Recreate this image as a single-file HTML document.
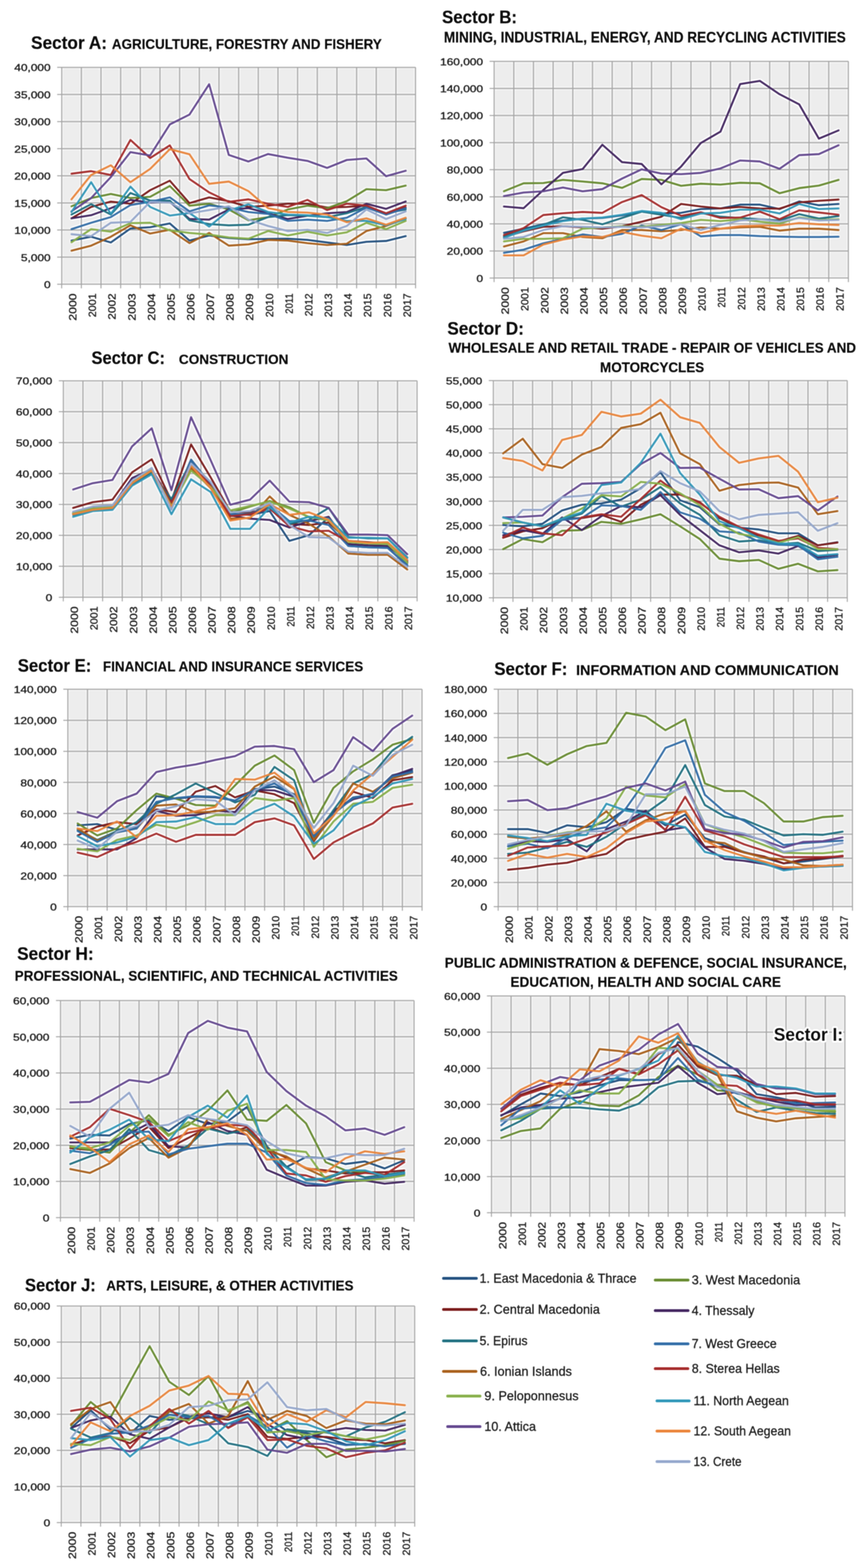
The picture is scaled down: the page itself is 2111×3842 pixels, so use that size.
<!DOCTYPE html>
<html><head><meta charset="utf-8"><title>Regional GVA by sector</title><style>html,body{margin:0;padding:0;background:#fefefe;}svg{display:block;} .lab{stroke:#1c1c1c;stroke-width:0.85px;}</style></head><body>
<svg width="2111" height="3842" viewBox="0 0 2111 3842" font-family="'Liberation Sans', Arial, sans-serif" fill="#1c1c1c">
<defs><filter id="sh" filterUnits="userSpaceOnUse" x="-40" y="-40" width="2191" height="3922" color-interpolation-filters="sRGB"><feGaussianBlur in="SourceGraphic" stdDeviation="0.8" result="s"/><feGaussianBlur in="s" stdDeviation="2.0" result="b"/><feColorMatrix in="b" type="matrix" values="-1 0 0 0 1  0 -1 0 0 1  0 0 -1 0 1  0 0 0 1 0" result="bi"/><feComposite in="s" in2="bi" operator="arithmetic" k1="0" k2="0.5" k3="0.5" k4="0" result="d"/><feColorMatrix in="d" type="matrix" values="0.299 0.587 0.114 0 0  0.299 0.587 0.114 0 0  0.299 0.587 0.114 0 0  0 0 0 1 0" result="dl"/><feComponentTransfer in="dl" result="dp"><feFuncR type="linear" slope="2" intercept="-1"/><feFuncG type="linear" slope="2" intercept="-1"/><feFuncB type="linear" slope="2" intercept="-1"/></feComponentTransfer><feComposite in="s" in2="dp" operator="arithmetic" k1="0" k2="1" k3="0.75" k4="0"/></filter></defs>
<g filter="url(#sh)">
<rect x="-40" y="-40" width="2191" height="3922" fill="#fefefe"/>
<rect x="151" y="165" width="866.7" height="531.5" fill="#ececec"/>
<path d="M140 696.5H1017.7M140 630.1H1017.7M140 563.6H1017.7M140 497.2H1017.7M140 430.8H1017.7M140 364.3H1017.7M140 297.9H1017.7M140 231.4H1017.7M140 165H1017.7M151 165V706.5M199.2 165V706.5M247.3 165V706.5M295.5 165V706.5M343.6 165V706.5M391.8 165V706.5M439.9 165V706.5M488.1 165V706.5M536.2 165V706.5M584.4 165V706.5M632.5 165V706.5M680.7 165V706.5M728.8 165V706.5M777 165V706.5M825.1 165V706.5M873.3 165V706.5M921.4 165V706.5M969.6 165V706.5M1017.7 165V706.5" stroke="#a2a2a2" stroke-width="2.5" fill="none"/>
<text x="124" y="705.9" text-anchor="end" font-size="23" textLength="16.3" lengthAdjust="spacingAndGlyphs" class="lab">0</text>
<text x="124" y="639.5" text-anchor="end" font-size="23" textLength="72.7" lengthAdjust="spacingAndGlyphs" class="lab">5,000</text>
<text x="124" y="573" text-anchor="end" font-size="23" textLength="89" lengthAdjust="spacingAndGlyphs" class="lab">10,000</text>
<text x="124" y="506.6" text-anchor="end" font-size="23" textLength="89" lengthAdjust="spacingAndGlyphs" class="lab">15,000</text>
<text x="124" y="440.1" text-anchor="end" font-size="23" textLength="89" lengthAdjust="spacingAndGlyphs" class="lab">20,000</text>
<text x="124" y="373.7" text-anchor="end" font-size="23" textLength="89" lengthAdjust="spacingAndGlyphs" class="lab">25,000</text>
<text x="124" y="307.3" text-anchor="end" font-size="23" textLength="89" lengthAdjust="spacingAndGlyphs" class="lab">30,000</text>
<text x="124" y="240.8" text-anchor="end" font-size="23" textLength="89" lengthAdjust="spacingAndGlyphs" class="lab">35,000</text>
<text x="124" y="174.4" text-anchor="end" font-size="23" textLength="89" lengthAdjust="spacingAndGlyphs" class="lab">40,000</text>
<text transform="translate(187.1 719) rotate(-90)" text-anchor="end" font-size="26.5" textLength="66.7" lengthAdjust="spacingAndGlyphs" class="lab">2000</text>
<text transform="translate(235.2 719) rotate(-90)" text-anchor="end" font-size="26.5" textLength="58.2" lengthAdjust="spacingAndGlyphs" class="lab">2001</text>
<text transform="translate(283.4 719) rotate(-90)" text-anchor="end" font-size="26.5" textLength="64.2" lengthAdjust="spacingAndGlyphs" class="lab">2002</text>
<text transform="translate(331.5 719) rotate(-90)" text-anchor="end" font-size="26.5" textLength="66.7" lengthAdjust="spacingAndGlyphs" class="lab">2003</text>
<text transform="translate(379.7 719) rotate(-90)" text-anchor="end" font-size="26.5" textLength="66.7" lengthAdjust="spacingAndGlyphs" class="lab">2004</text>
<text transform="translate(427.8 719) rotate(-90)" text-anchor="end" font-size="26.5" textLength="66.7" lengthAdjust="spacingAndGlyphs" class="lab">2005</text>
<text transform="translate(476 719) rotate(-90)" text-anchor="end" font-size="26.5" textLength="66.7" lengthAdjust="spacingAndGlyphs" class="lab">2006</text>
<text transform="translate(524.1 719) rotate(-90)" text-anchor="end" font-size="26.5" textLength="66.7" lengthAdjust="spacingAndGlyphs" class="lab">2007</text>
<text transform="translate(572.3 719) rotate(-90)" text-anchor="end" font-size="26.5" textLength="66.7" lengthAdjust="spacingAndGlyphs" class="lab">2008</text>
<text transform="translate(620.4 719) rotate(-90)" text-anchor="end" font-size="26.5" textLength="66.7" lengthAdjust="spacingAndGlyphs" class="lab">2009</text>
<text transform="translate(668.6 719) rotate(-90)" text-anchor="end" font-size="26.5" textLength="58.2" lengthAdjust="spacingAndGlyphs" class="lab">2010</text>
<text transform="translate(716.7 719) rotate(-90)" text-anchor="end" font-size="26.5" textLength="49.7" lengthAdjust="spacingAndGlyphs" class="lab">2011</text>
<text transform="translate(764.9 719) rotate(-90)" text-anchor="end" font-size="26.5" textLength="55.7" lengthAdjust="spacingAndGlyphs" class="lab">2012</text>
<text transform="translate(813 719) rotate(-90)" text-anchor="end" font-size="26.5" textLength="58.2" lengthAdjust="spacingAndGlyphs" class="lab">2013</text>
<text transform="translate(861.2 719) rotate(-90)" text-anchor="end" font-size="26.5" textLength="58.2" lengthAdjust="spacingAndGlyphs" class="lab">2014</text>
<text transform="translate(909.3 719) rotate(-90)" text-anchor="end" font-size="26.5" textLength="58.2" lengthAdjust="spacingAndGlyphs" class="lab">2015</text>
<text transform="translate(957.5 719) rotate(-90)" text-anchor="end" font-size="26.5" textLength="58.2" lengthAdjust="spacingAndGlyphs" class="lab">2016</text>
<text transform="translate(1005.6 719) rotate(-90)" text-anchor="end" font-size="26.5" textLength="58.2" lengthAdjust="spacingAndGlyphs" class="lab">2017</text>
<polyline points="175.1,589.4 223.2,580.1 271.4,594.1 319.5,559.9 367.7,556.8 415.8,547.5 464,589.4 512.1,577 560.3,583.2 608.4,586.3 656.6,585.4 704.7,584.8 752.9,587.9 801,594.1 849.2,600.3 897.3,592.5 945.5,590.4 993.6,578.6" fill="none" stroke="#1F4E7E" stroke-width="4.6" stroke-linejoin="round" stroke-linecap="round"/>
<polyline points="175.1,535 223.2,507 271.4,494 319.5,499.3 367.7,466 415.8,442.7 464,497.7 512.1,483.7 560.3,493 608.4,507 656.6,503.9 704.7,499.3 752.9,499.3 801,508.6 849.2,507 897.3,503.9 945.5,525.7 993.6,508.6" fill="none" stroke="#7A1A1A" stroke-width="4.6" stroke-linejoin="round" stroke-linecap="round"/>
<polyline points="175.1,505.5 223.2,485.3 271.4,475.3 319.5,485.3 367.7,482.2 415.8,455.7 464,503.9 512.1,499.3 560.3,513.3 608.4,539.7 656.6,531.9 704.7,513.3 752.9,503.9 801,510.1 849.2,493 897.3,463.5 945.5,466 993.6,454.8" fill="none" stroke="#668A2E" stroke-width="4.6" stroke-linejoin="round" stroke-linecap="round"/>
<polyline points="175.1,535 223.2,527.3 271.4,510.1 319.5,489.9 367.7,496.2 415.8,494.6 464,536.6 512.1,538.1 560.3,513.3 608.4,510.1 656.6,522.6 704.7,536.6 752.9,528.8 801,522.6 849.2,519.5 897.3,499.3 945.5,511.7 993.6,493.7" fill="none" stroke="#40235E" stroke-width="4.6" stroke-linejoin="round" stroke-linecap="round"/>
<polyline points="175.1,525.7 223.2,500.2 271.4,525.7 319.5,472.8 367.7,491.5 415.8,491.5 464,539.7 512.1,549 560.3,552.1 608.4,550.6 656.6,531.9 704.7,527.3 752.9,528.8 801,531.9 849.2,522.6 897.3,507 945.5,522.6 993.6,513.3" fill="none" stroke="#1E6F80" stroke-width="4.6" stroke-linejoin="round" stroke-linecap="round"/>
<polyline points="175.1,614.3 223.2,601.9 271.4,580.1 319.5,552.1 367.7,572.3 415.8,563 464,595.7 512.1,570.8 560.3,601.9 608.4,598.8 656.6,587.9 704.7,589.4 752.9,595.7 801,600.3 849.2,597.2 897.3,566.1 945.5,553.7 993.6,535" fill="none" stroke="#A85E18" stroke-width="4.6" stroke-linejoin="round" stroke-linecap="round"/>
<polyline points="175.1,561.5 223.2,545.9 271.4,531.9 319.5,502.4 367.7,494.6 415.8,483.7 464,517.9 512.1,503.3 560.3,508.6 608.4,519.5 656.6,524.1 704.7,541.2 752.9,538.1 801,541.2 849.2,533.5 897.3,508.6 945.5,525.7 993.6,510.1" fill="none" stroke="#2F6BA6" stroke-width="4.6" stroke-linejoin="round" stroke-linecap="round"/>
<polyline points="175.1,425.6 223.2,419.4 271.4,428.7 319.5,342.9 367.7,387.3 415.8,356.2 464,438.6 512.1,471.3 560.3,494.6 608.4,488.4 656.6,499.3 704.7,507 752.9,489.9 801,514.8 849.2,499.3 897.3,503.9 945.5,522.6 993.6,503.9" fill="none" stroke="#A52A2A" stroke-width="4.6" stroke-linejoin="round" stroke-linecap="round"/>
<polyline points="175.1,593.5 223.2,561.5 271.4,567.7 319.5,546.8 367.7,545.9 415.8,564.6 464,570.8 512.1,574.8 560.3,581.7 608.4,584.8 656.6,566.1 704.7,577 752.9,567.7 801,577 849.2,569.2 897.3,545.9 945.5,561.5 993.6,541.2" fill="none" stroke="#86AE48" stroke-width="4.6" stroke-linejoin="round" stroke-linecap="round"/>
<polyline points="175.1,517.9 223.2,485.3 271.4,434 319.5,372.7 367.7,381.1 415.8,304.9 464,280.7 512.1,206.4 560.3,379.6 608.4,395.7 656.6,377.4 704.7,386.4 752.9,394.2 801,411.3 849.2,392 897.3,388.3 945.5,431.8 993.6,418.4" fill="none" stroke="#62468E" stroke-width="4.6" stroke-linejoin="round" stroke-linecap="round"/>
<polyline points="175.1,519.5 223.2,446.4 271.4,524.1 319.5,457.3 367.7,507 415.8,528.2 464,522 512.1,555.2 560.3,515.7 608.4,500.8 656.6,519.5 704.7,525.7 752.9,527.3 801,531.9 849.2,541.2 897.3,541.2 945.5,552.1 993.6,536.6" fill="none" stroke="#2E96B8" stroke-width="4.6" stroke-linejoin="round" stroke-linecap="round"/>
<polyline points="175.1,488.4 223.2,428.7 271.4,405 319.5,446.4 367.7,413.8 415.8,365.6 464,378 512.1,450.4 560.3,444.9 608.4,468.2 656.6,510.1 704.7,519.5 752.9,521 801,525.7 849.2,544.4 897.3,535 945.5,550.6 993.6,533.5" fill="none" stroke="#EA8338" stroke-width="4.6" stroke-linejoin="round" stroke-linecap="round"/>
<polyline points="175.1,573.9 223.2,578.6 271.4,545.9 319.5,543.7 367.7,494.6 415.8,496.2 464,522.6 512.1,514.8 560.3,505.5 608.4,538.1 656.6,553.7 704.7,566.1 752.9,563 801,570.8 849.2,553.7 897.3,513.3 945.5,536.6 993.6,517.9" fill="none" stroke="#93A6CC" stroke-width="4.6" stroke-linejoin="round" stroke-linecap="round"/>
<rect x="1210" y="150.3" width="867.7" height="531" fill="#ececec"/>
<path d="M1199 681.3H2077.7M1199 614.9H2077.7M1199 548.5H2077.7M1199 482.2H2077.7M1199 415.8H2077.7M1199 349.4H2077.7M1199 283H2077.7M1199 216.7H2077.7M1199 150.3H2077.7M1210 150.3V691.3M1258.2 150.3V691.3M1306.4 150.3V691.3M1354.6 150.3V691.3M1402.8 150.3V691.3M1451 150.3V691.3M1499.2 150.3V691.3M1547.4 150.3V691.3M1595.6 150.3V691.3M1643.8 150.3V691.3M1692.1 150.3V691.3M1740.3 150.3V691.3M1788.5 150.3V691.3M1836.7 150.3V691.3M1884.9 150.3V691.3M1933.1 150.3V691.3M1981.3 150.3V691.3M2029.5 150.3V691.3M2077.7 150.3V691.3" stroke="#a2a2a2" stroke-width="2.5" fill="none"/>
<text x="1183" y="690.7" text-anchor="end" font-size="23" textLength="16.3" lengthAdjust="spacingAndGlyphs" class="lab">0</text>
<text x="1183" y="624.3" text-anchor="end" font-size="23" textLength="89" lengthAdjust="spacingAndGlyphs" class="lab">20,000</text>
<text x="1183" y="557.9" text-anchor="end" font-size="23" textLength="89" lengthAdjust="spacingAndGlyphs" class="lab">40,000</text>
<text x="1183" y="491.6" text-anchor="end" font-size="23" textLength="89" lengthAdjust="spacingAndGlyphs" class="lab">60,000</text>
<text x="1183" y="425.2" text-anchor="end" font-size="23" textLength="89" lengthAdjust="spacingAndGlyphs" class="lab">80,000</text>
<text x="1183" y="358.8" text-anchor="end" font-size="23" textLength="105.3" lengthAdjust="spacingAndGlyphs" class="lab">100,000</text>
<text x="1183" y="292.4" text-anchor="end" font-size="23" textLength="105.3" lengthAdjust="spacingAndGlyphs" class="lab">120,000</text>
<text x="1183" y="226.1" text-anchor="end" font-size="23" textLength="105.3" lengthAdjust="spacingAndGlyphs" class="lab">140,000</text>
<text x="1183" y="159.7" text-anchor="end" font-size="23" textLength="105.3" lengthAdjust="spacingAndGlyphs" class="lab">160,000</text>
<text transform="translate(1246.1 703.8) rotate(-90)" text-anchor="end" font-size="26.5" textLength="66.7" lengthAdjust="spacingAndGlyphs" class="lab">2000</text>
<text transform="translate(1294.3 703.8) rotate(-90)" text-anchor="end" font-size="26.5" textLength="58.2" lengthAdjust="spacingAndGlyphs" class="lab">2001</text>
<text transform="translate(1342.5 703.8) rotate(-90)" text-anchor="end" font-size="26.5" textLength="64.2" lengthAdjust="spacingAndGlyphs" class="lab">2002</text>
<text transform="translate(1390.7 703.8) rotate(-90)" text-anchor="end" font-size="26.5" textLength="66.7" lengthAdjust="spacingAndGlyphs" class="lab">2003</text>
<text transform="translate(1438.9 703.8) rotate(-90)" text-anchor="end" font-size="26.5" textLength="66.7" lengthAdjust="spacingAndGlyphs" class="lab">2004</text>
<text transform="translate(1487.1 703.8) rotate(-90)" text-anchor="end" font-size="26.5" textLength="66.7" lengthAdjust="spacingAndGlyphs" class="lab">2005</text>
<text transform="translate(1535.3 703.8) rotate(-90)" text-anchor="end" font-size="26.5" textLength="66.7" lengthAdjust="spacingAndGlyphs" class="lab">2006</text>
<text transform="translate(1583.5 703.8) rotate(-90)" text-anchor="end" font-size="26.5" textLength="66.7" lengthAdjust="spacingAndGlyphs" class="lab">2007</text>
<text transform="translate(1631.7 703.8) rotate(-90)" text-anchor="end" font-size="26.5" textLength="66.7" lengthAdjust="spacingAndGlyphs" class="lab">2008</text>
<text transform="translate(1680 703.8) rotate(-90)" text-anchor="end" font-size="26.5" textLength="66.7" lengthAdjust="spacingAndGlyphs" class="lab">2009</text>
<text transform="translate(1728.2 703.8) rotate(-90)" text-anchor="end" font-size="26.5" textLength="58.2" lengthAdjust="spacingAndGlyphs" class="lab">2010</text>
<text transform="translate(1776.4 703.8) rotate(-90)" text-anchor="end" font-size="26.5" textLength="49.7" lengthAdjust="spacingAndGlyphs" class="lab">2011</text>
<text transform="translate(1824.6 703.8) rotate(-90)" text-anchor="end" font-size="26.5" textLength="55.7" lengthAdjust="spacingAndGlyphs" class="lab">2012</text>
<text transform="translate(1872.8 703.8) rotate(-90)" text-anchor="end" font-size="26.5" textLength="58.2" lengthAdjust="spacingAndGlyphs" class="lab">2013</text>
<text transform="translate(1921 703.8) rotate(-90)" text-anchor="end" font-size="26.5" textLength="58.2" lengthAdjust="spacingAndGlyphs" class="lab">2014</text>
<text transform="translate(1969.2 703.8) rotate(-90)" text-anchor="end" font-size="26.5" textLength="58.2" lengthAdjust="spacingAndGlyphs" class="lab">2015</text>
<text transform="translate(2017.4 703.8) rotate(-90)" text-anchor="end" font-size="26.5" textLength="58.2" lengthAdjust="spacingAndGlyphs" class="lab">2016</text>
<text transform="translate(2065.6 703.8) rotate(-90)" text-anchor="end" font-size="26.5" textLength="58.2" lengthAdjust="spacingAndGlyphs" class="lab">2017</text>
<polyline points="1234.1,570.4 1282.3,560.4 1330.5,549.6 1378.7,540.2 1426.9,535.6 1475.1,534 1523.3,527.8 1571.5,518.5 1619.7,523.1 1668,521.6 1716.2,512.3 1764.4,510.7 1812.6,501.4 1860.8,501.4 1909,512.3 1957.2,493.6 2005.4,502.9 2053.6,499.8" fill="none" stroke="#1F4E7E" stroke-width="4.6" stroke-linejoin="round" stroke-linecap="round"/>
<polyline points="1234.1,580.7 1282.3,566.7 1330.5,555.8 1378.7,554.2 1426.9,557.3 1475.1,560.4 1523.3,554.2 1571.5,543.3 1619.7,530.9 1668,499.8 1716.2,506 1764.4,510.7 1812.6,507 1860.8,510.7 1909,511.3 1957.2,495.8 2005.4,492 2053.6,488.9" fill="none" stroke="#7A1A1A" stroke-width="4.6" stroke-linejoin="round" stroke-linecap="round"/>
<polyline points="1234.1,468.7 1282.3,449.1 1330.5,448.5 1378.7,440.7 1426.9,444.8 1475.1,449.1 1523.3,460.3 1571.5,438.6 1619.7,440.7 1668,455.3 1716.2,450.1 1764.4,452.2 1812.6,447.9 1860.8,449.1 1909,473.4 1957.2,460.9 2005.4,454.7 2053.6,440.7" fill="none" stroke="#668A2E" stroke-width="4.6" stroke-linejoin="round" stroke-linecap="round"/>
<polyline points="1234.1,506 1282.3,510.1 1330.5,465.6 1378.7,423.6 1426.9,414.3 1475.1,354.6 1523.3,397.2 1571.5,401.9 1619.7,451.6 1668,408.1 1716.2,350.6 1764.4,322.6 1812.6,206 1860.8,198.2 1909,230.8 1957.2,255.7 2005.4,339.7 2053.6,319.5" fill="none" stroke="#40235E" stroke-width="4.6" stroke-linejoin="round" stroke-linecap="round"/>
<polyline points="1234.1,579.1 1282.3,563.6 1330.5,551.1 1378.7,532.5 1426.9,538.7 1475.1,549.6 1523.3,534 1571.5,518.5 1619.7,526.2 1668,534 1716.2,521.6 1764.4,530.9 1812.6,534 1860.8,537.1 1909,540.2 1957.2,524.7 2005.4,535.6 2053.6,529.4" fill="none" stroke="#1E6F80" stroke-width="4.6" stroke-linejoin="round" stroke-linecap="round"/>
<polyline points="1234.1,604 1282.3,591.5 1330.5,571.3 1378.7,571.3 1426.9,580.7 1475.1,583.8 1523.3,563.6 1571.5,563.6 1619.7,566.7 1668,563.6 1716.2,557.3 1764.4,560.4 1812.6,557.3 1860.8,555.8 1909,565.1 1957.2,560.4 2005.4,560.4 2053.6,563.6" fill="none" stroke="#A85E18" stroke-width="4.6" stroke-linejoin="round" stroke-linecap="round"/>
<polyline points="1234.1,619.5 1282.3,611.8 1330.5,596.2 1378.7,585.3 1426.9,574.4 1475.1,580.7 1523.3,572.9 1571.5,552.7 1619.7,563.6 1668,549.6 1716.2,579.1 1764.4,576 1812.6,576 1860.8,578.5 1909,579.7 1957.2,580.7 2005.4,580.7 2053.6,580" fill="none" stroke="#2F6BA6" stroke-width="4.6" stroke-linejoin="round" stroke-linecap="round"/>
<polyline points="1234.1,576 1282.3,558.9 1330.5,526.9 1378.7,522.5 1426.9,519.4 1475.1,521.6 1523.3,495.1 1571.5,478 1619.7,507.6 1668,528.7 1716.2,520 1764.4,534 1812.6,533.1 1860.8,518.5 1909,537.1 1957.2,515.4 2005.4,520.6 2053.6,526.2" fill="none" stroke="#A52A2A" stroke-width="4.6" stroke-linejoin="round" stroke-linecap="round"/>
<polyline points="1234.1,591.5 1282.3,585.3 1330.5,585.3 1378.7,583.8 1426.9,560.4 1475.1,557.3 1523.3,554.2 1571.5,555.8 1619.7,551.1 1668,546.5 1716.2,538.7 1764.4,541.8 1812.6,537.1 1860.8,543.3 1909,548 1957.2,532.5 2005.4,538.7 2053.6,537.1" fill="none" stroke="#86AE48" stroke-width="4.6" stroke-linejoin="round" stroke-linecap="round"/>
<polyline points="1234.1,480.5 1282.3,471.8 1330.5,468.7 1378.7,459.4 1426.9,468.7 1475.1,463.4 1523.3,437.6 1571.5,414.9 1619.7,425.2 1668,426.7 1716.2,423.6 1764.4,412.7 1812.6,393.2 1860.8,395.6 1909,413.7 1957.2,380.1 2005.4,377.6 2053.6,355.8" fill="none" stroke="#62468E" stroke-width="4.6" stroke-linejoin="round" stroke-linecap="round"/>
<polyline points="1234.1,582.8 1282.3,565.1 1330.5,552.7 1378.7,541.8 1426.9,535.6 1475.1,533.1 1523.3,526.2 1571.5,516.9 1619.7,521.6 1668,537.1 1716.2,523.1 1764.4,521.6 1812.6,513.8 1860.8,513.8 1909,523.1 1957.2,499.8 2005.4,512.3 2053.6,510.7" fill="none" stroke="#2E96B8" stroke-width="4.6" stroke-linejoin="round" stroke-linecap="round"/>
<polyline points="1234.1,625.7 1282.3,625.7 1330.5,599.3 1378.7,586.9 1426.9,579.1 1475.1,580.7 1523.3,568.2 1571.5,577.5 1619.7,583.8 1668,560.4 1716.2,571.3 1764.4,560.4 1812.6,554.2 1860.8,552.7 1909,552.7 1957.2,546.5 2005.4,549.6 2053.6,551.1" fill="none" stroke="#EA8338" stroke-width="4.6" stroke-linejoin="round" stroke-linecap="round"/>
<polyline points="1234.1,585.3 1282.3,580.7 1330.5,563.6 1378.7,554.2 1426.9,555.8 1475.1,557.3 1523.3,555.8 1571.5,557.3 1619.7,554.2 1668,549.6 1716.2,563.6 1764.4,551.1 1812.6,540.2 1860.8,537.1 1909,543.3 1957.2,534 2005.4,540.2 2053.6,538.7" fill="none" stroke="#93A6CC" stroke-width="4.6" stroke-linejoin="round" stroke-linecap="round"/>
<rect x="155" y="932.9" width="866.5" height="530.5" fill="#ececec"/>
<path d="M144 1463.4H1021.5M144 1387.6H1021.5M144 1311.8H1021.5M144 1236H1021.5M144 1160.3H1021.5M144 1084.5H1021.5M144 1008.7H1021.5M144 932.9H1021.5M155 932.9V1473.4M203.1 932.9V1473.4M251.3 932.9V1473.4M299.4 932.9V1473.4M347.6 932.9V1473.4M395.7 932.9V1473.4M443.8 932.9V1473.4M492 932.9V1473.4M540.1 932.9V1473.4M588.2 932.9V1473.4M636.4 932.9V1473.4M684.5 932.9V1473.4M732.7 932.9V1473.4M780.8 932.9V1473.4M828.9 932.9V1473.4M877.1 932.9V1473.4M925.2 932.9V1473.4M973.4 932.9V1473.4M1021.5 932.9V1473.4" stroke="#a2a2a2" stroke-width="2.5" fill="none"/>
<text x="128" y="1472.8" text-anchor="end" font-size="23" textLength="16.3" lengthAdjust="spacingAndGlyphs" class="lab">0</text>
<text x="128" y="1397" text-anchor="end" font-size="23" textLength="89" lengthAdjust="spacingAndGlyphs" class="lab">10,000</text>
<text x="128" y="1321.2" text-anchor="end" font-size="23" textLength="89" lengthAdjust="spacingAndGlyphs" class="lab">20,000</text>
<text x="128" y="1245.4" text-anchor="end" font-size="23" textLength="89" lengthAdjust="spacingAndGlyphs" class="lab">30,000</text>
<text x="128" y="1169.7" text-anchor="end" font-size="23" textLength="89" lengthAdjust="spacingAndGlyphs" class="lab">40,000</text>
<text x="128" y="1093.9" text-anchor="end" font-size="23" textLength="89" lengthAdjust="spacingAndGlyphs" class="lab">50,000</text>
<text x="128" y="1018.1" text-anchor="end" font-size="23" textLength="89" lengthAdjust="spacingAndGlyphs" class="lab">60,000</text>
<text x="128" y="942.3" text-anchor="end" font-size="23" textLength="89" lengthAdjust="spacingAndGlyphs" class="lab">70,000</text>
<text transform="translate(191.1 1485.9) rotate(-90)" text-anchor="end" font-size="26.5" textLength="66.7" lengthAdjust="spacingAndGlyphs" class="lab">2000</text>
<text transform="translate(239.2 1485.9) rotate(-90)" text-anchor="end" font-size="26.5" textLength="58.2" lengthAdjust="spacingAndGlyphs" class="lab">2001</text>
<text transform="translate(287.3 1485.9) rotate(-90)" text-anchor="end" font-size="26.5" textLength="64.2" lengthAdjust="spacingAndGlyphs" class="lab">2002</text>
<text transform="translate(335.5 1485.9) rotate(-90)" text-anchor="end" font-size="26.5" textLength="66.7" lengthAdjust="spacingAndGlyphs" class="lab">2003</text>
<text transform="translate(383.6 1485.9) rotate(-90)" text-anchor="end" font-size="26.5" textLength="66.7" lengthAdjust="spacingAndGlyphs" class="lab">2004</text>
<text transform="translate(431.8 1485.9) rotate(-90)" text-anchor="end" font-size="26.5" textLength="66.7" lengthAdjust="spacingAndGlyphs" class="lab">2005</text>
<text transform="translate(479.9 1485.9) rotate(-90)" text-anchor="end" font-size="26.5" textLength="66.7" lengthAdjust="spacingAndGlyphs" class="lab">2006</text>
<text transform="translate(528 1485.9) rotate(-90)" text-anchor="end" font-size="26.5" textLength="66.7" lengthAdjust="spacingAndGlyphs" class="lab">2007</text>
<text transform="translate(576.2 1485.9) rotate(-90)" text-anchor="end" font-size="26.5" textLength="66.7" lengthAdjust="spacingAndGlyphs" class="lab">2008</text>
<text transform="translate(624.3 1485.9) rotate(-90)" text-anchor="end" font-size="26.5" textLength="66.7" lengthAdjust="spacingAndGlyphs" class="lab">2009</text>
<text transform="translate(672.5 1485.9) rotate(-90)" text-anchor="end" font-size="26.5" textLength="58.2" lengthAdjust="spacingAndGlyphs" class="lab">2010</text>
<text transform="translate(720.6 1485.9) rotate(-90)" text-anchor="end" font-size="26.5" textLength="49.7" lengthAdjust="spacingAndGlyphs" class="lab">2011</text>
<text transform="translate(768.7 1485.9) rotate(-90)" text-anchor="end" font-size="26.5" textLength="55.7" lengthAdjust="spacingAndGlyphs" class="lab">2012</text>
<text transform="translate(816.9 1485.9) rotate(-90)" text-anchor="end" font-size="26.5" textLength="58.2" lengthAdjust="spacingAndGlyphs" class="lab">2013</text>
<text transform="translate(865 1485.9) rotate(-90)" text-anchor="end" font-size="26.5" textLength="58.2" lengthAdjust="spacingAndGlyphs" class="lab">2014</text>
<text transform="translate(913.2 1485.9) rotate(-90)" text-anchor="end" font-size="26.5" textLength="58.2" lengthAdjust="spacingAndGlyphs" class="lab">2015</text>
<text transform="translate(961.3 1485.9) rotate(-90)" text-anchor="end" font-size="26.5" textLength="58.2" lengthAdjust="spacingAndGlyphs" class="lab">2016</text>
<text transform="translate(1009.4 1485.9) rotate(-90)" text-anchor="end" font-size="26.5" textLength="58.2" lengthAdjust="spacingAndGlyphs" class="lab">2017</text>
<polyline points="179.1,1256.9 227.2,1246.1 275.3,1241.4 323.5,1180.8 371.6,1149.7 419.8,1238.3 467.9,1126.3 516,1187 564.2,1258.5 612.3,1261.6 660.5,1252.3 708.6,1325.3 756.7,1311.4 804.9,1267.8 853,1337.8 901.2,1340.9 949.3,1342.4 997.4,1386" fill="none" stroke="#1F4E7E" stroke-width="4.6" stroke-linejoin="round" stroke-linecap="round"/>
<polyline points="179.1,1244.5 227.2,1230.5 275.3,1224.3 323.5,1157.4 371.6,1125.4 419.8,1227.4 467.9,1089 516,1169.9 564.2,1253.8 612.3,1255.4 660.5,1246.1 708.6,1283.4 756.7,1286.5 804.9,1280.3 853,1325.3 901.2,1328.5 949.3,1331.6 997.4,1376.7" fill="none" stroke="#7A1A1A" stroke-width="4.6" stroke-linejoin="round" stroke-linecap="round"/>
<polyline points="179.1,1258.5 227.2,1247.6 275.3,1242.9 323.5,1182.3 371.6,1154.3 419.8,1236.7 467.9,1149.7 516,1190.1 564.2,1256.9 612.3,1241.4 660.5,1227.4 708.6,1242.9 756.7,1267.8 804.9,1274 853,1326.9 901.2,1331.6 949.3,1333.1 997.4,1379.8" fill="none" stroke="#668A2E" stroke-width="4.6" stroke-linejoin="round" stroke-linecap="round"/>
<polyline points="179.1,1256.9 227.2,1242.9 275.3,1239.8 323.5,1171.4 371.6,1149.7 419.8,1230.5 467.9,1146.6 516,1180.8 564.2,1263.2 612.3,1270.9 660.5,1274 708.6,1292.7 756.7,1277.1 804.9,1266.3 853,1333.1 901.2,1336.2 949.3,1337.8 997.4,1373.5" fill="none" stroke="#40235E" stroke-width="4.6" stroke-linejoin="round" stroke-linecap="round"/>
<polyline points="179.1,1261.6 227.2,1250.7 275.3,1246.1 323.5,1187 371.6,1159 419.8,1222.7 467.9,1131 516,1183.9 564.2,1261.6 612.3,1258.5 660.5,1242.9 708.6,1283.4 756.7,1274 804.9,1244.5 853,1316 901.2,1319.1 949.3,1319.1 997.4,1365.8" fill="none" stroke="#1E6F80" stroke-width="4.6" stroke-linejoin="round" stroke-linecap="round"/>
<polyline points="179.1,1260 227.2,1249.2 275.3,1244.5 323.5,1183.9 371.6,1152.8 419.8,1242.9 467.9,1146.6 516,1196.3 564.2,1270.9 612.3,1269.4 660.5,1216.5 708.6,1261.6 756.7,1283.4 804.9,1314.5 853,1356.4 901.2,1359.5 949.3,1359.5 997.4,1395.3" fill="none" stroke="#A85E18" stroke-width="4.6" stroke-linejoin="round" stroke-linecap="round"/>
<polyline points="179.1,1258.5 227.2,1247.6 275.3,1242.9 323.5,1180.8 371.6,1149.7 419.8,1239.8 467.9,1127.9 516,1188.5 564.2,1260 612.3,1260 660.5,1236.7 708.6,1277.1 756.7,1275.6 804.9,1286.5 853,1337.8 901.2,1340.9 949.3,1342.4 997.4,1384.4" fill="none" stroke="#2F6BA6" stroke-width="4.6" stroke-linejoin="round" stroke-linecap="round"/>
<polyline points="179.1,1258.5 227.2,1246.7 275.3,1241.4 323.5,1182.3 371.6,1151.2 419.8,1232.1 467.9,1137.2 516,1190.1 564.2,1264.7 612.3,1260 660.5,1246.1 708.6,1289.6 756.7,1302 804.9,1300.5 853,1327.5 901.2,1330 949.3,1331.6 997.4,1378.2" fill="none" stroke="#A52A2A" stroke-width="4.6" stroke-linejoin="round" stroke-linecap="round"/>
<polyline points="179.1,1256.9 227.2,1246.1 275.3,1241.4 323.5,1180.8 371.6,1151.2 419.8,1239.8 467.9,1152.8 516,1193.2 564.2,1250.7 612.3,1239.8 660.5,1229 708.6,1246.1 756.7,1266.3 804.9,1275.6 853,1328.5 901.2,1331.6 949.3,1333.1 997.4,1378.2" fill="none" stroke="#86AE48" stroke-width="4.6" stroke-linejoin="round" stroke-linecap="round"/>
<polyline points="179.1,1199.4 227.2,1183.9 275.3,1176.1 323.5,1093.7 371.6,1049.5 419.8,1201 467.9,1022.2 516,1127.9 564.2,1236.7 612.3,1224.3 660.5,1177.6 708.6,1229 756.7,1230.5 804.9,1244.5 853,1309.8 901.2,1309.8 949.3,1311.4 997.4,1358" fill="none" stroke="#62468E" stroke-width="4.6" stroke-linejoin="round" stroke-linecap="round"/>
<polyline points="179.1,1266.3 227.2,1252.3 275.3,1249.2 323.5,1190.1 371.6,1162.1 419.8,1260 467.9,1174.5 516,1205.6 564.2,1295.8 612.3,1295.8 660.5,1242.9 708.6,1280.3 756.7,1266.3 804.9,1270.9 853,1317.6 901.2,1317.6 949.3,1319.1 997.4,1367.3" fill="none" stroke="#2E96B8" stroke-width="4.6" stroke-linejoin="round" stroke-linecap="round"/>
<polyline points="179.1,1260 227.2,1249.2 275.3,1244.5 323.5,1183.9 371.6,1152.8 419.8,1242.9 467.9,1140.3 516,1196.3 564.2,1275.6 612.3,1267.8 660.5,1235.2 708.6,1261.6 756.7,1255.4 804.9,1274 853,1325.3 901.2,1330 949.3,1328.5 997.4,1372" fill="none" stroke="#EA8338" stroke-width="4.6" stroke-linejoin="round" stroke-linecap="round"/>
<polyline points="179.1,1253.8 227.2,1241.4 275.3,1238.3 323.5,1177.6 371.6,1146.6 419.8,1249.2 467.9,1135.7 516,1180.8 564.2,1255.4 612.3,1252.3 660.5,1232.1 708.6,1286.5 756.7,1316 804.9,1317.6 853,1351.8 901.2,1354.9 949.3,1354.9 997.4,1389.1" fill="none" stroke="#93A6CC" stroke-width="4.6" stroke-linejoin="round" stroke-linecap="round"/>
<rect x="1208" y="932.4" width="867" height="532.3" fill="#ececec"/>
<path d="M1197 1464.7H2075M1197 1405.6H2075M1197 1346.4H2075M1197 1287.3H2075M1197 1228.1H2075M1197 1169H2075M1197 1109.8H2075M1197 1050.7H2075M1197 991.5H2075M1197 932.4H2075M1208 932.4V1474.7M1256.2 932.4V1474.7M1304.3 932.4V1474.7M1352.5 932.4V1474.7M1400.7 932.4V1474.7M1448.8 932.4V1474.7M1497 932.4V1474.7M1545.2 932.4V1474.7M1593.3 932.4V1474.7M1641.5 932.4V1474.7M1689.7 932.4V1474.7M1737.8 932.4V1474.7M1786 932.4V1474.7M1834.2 932.4V1474.7M1882.3 932.4V1474.7M1930.5 932.4V1474.7M1978.7 932.4V1474.7M2026.8 932.4V1474.7M2075 932.4V1474.7" stroke="#a2a2a2" stroke-width="2.5" fill="none"/>
<text x="1181" y="1474.1" text-anchor="end" font-size="23" textLength="89" lengthAdjust="spacingAndGlyphs" class="lab">10,000</text>
<text x="1181" y="1415" text-anchor="end" font-size="23" textLength="89" lengthAdjust="spacingAndGlyphs" class="lab">15,000</text>
<text x="1181" y="1355.8" text-anchor="end" font-size="23" textLength="89" lengthAdjust="spacingAndGlyphs" class="lab">20,000</text>
<text x="1181" y="1296.7" text-anchor="end" font-size="23" textLength="89" lengthAdjust="spacingAndGlyphs" class="lab">25,000</text>
<text x="1181" y="1237.5" text-anchor="end" font-size="23" textLength="89" lengthAdjust="spacingAndGlyphs" class="lab">30,000</text>
<text x="1181" y="1178.4" text-anchor="end" font-size="23" textLength="89" lengthAdjust="spacingAndGlyphs" class="lab">35,000</text>
<text x="1181" y="1119.2" text-anchor="end" font-size="23" textLength="89" lengthAdjust="spacingAndGlyphs" class="lab">40,000</text>
<text x="1181" y="1060.1" text-anchor="end" font-size="23" textLength="89" lengthAdjust="spacingAndGlyphs" class="lab">45,000</text>
<text x="1181" y="1000.9" text-anchor="end" font-size="23" textLength="89" lengthAdjust="spacingAndGlyphs" class="lab">50,000</text>
<text x="1181" y="941.8" text-anchor="end" font-size="23" textLength="89" lengthAdjust="spacingAndGlyphs" class="lab">55,000</text>
<text transform="translate(1244.1 1487.2) rotate(-90)" text-anchor="end" font-size="26.5" textLength="66.7" lengthAdjust="spacingAndGlyphs" class="lab">2000</text>
<text transform="translate(1292.2 1487.2) rotate(-90)" text-anchor="end" font-size="26.5" textLength="58.2" lengthAdjust="spacingAndGlyphs" class="lab">2001</text>
<text transform="translate(1340.4 1487.2) rotate(-90)" text-anchor="end" font-size="26.5" textLength="64.2" lengthAdjust="spacingAndGlyphs" class="lab">2002</text>
<text transform="translate(1388.6 1487.2) rotate(-90)" text-anchor="end" font-size="26.5" textLength="66.7" lengthAdjust="spacingAndGlyphs" class="lab">2003</text>
<text transform="translate(1436.8 1487.2) rotate(-90)" text-anchor="end" font-size="26.5" textLength="66.7" lengthAdjust="spacingAndGlyphs" class="lab">2004</text>
<text transform="translate(1484.9 1487.2) rotate(-90)" text-anchor="end" font-size="26.5" textLength="66.7" lengthAdjust="spacingAndGlyphs" class="lab">2005</text>
<text transform="translate(1533.1 1487.2) rotate(-90)" text-anchor="end" font-size="26.5" textLength="66.7" lengthAdjust="spacingAndGlyphs" class="lab">2006</text>
<text transform="translate(1581.2 1487.2) rotate(-90)" text-anchor="end" font-size="26.5" textLength="66.7" lengthAdjust="spacingAndGlyphs" class="lab">2007</text>
<text transform="translate(1629.4 1487.2) rotate(-90)" text-anchor="end" font-size="26.5" textLength="66.7" lengthAdjust="spacingAndGlyphs" class="lab">2008</text>
<text transform="translate(1677.6 1487.2) rotate(-90)" text-anchor="end" font-size="26.5" textLength="66.7" lengthAdjust="spacingAndGlyphs" class="lab">2009</text>
<text transform="translate(1725.8 1487.2) rotate(-90)" text-anchor="end" font-size="26.5" textLength="58.2" lengthAdjust="spacingAndGlyphs" class="lab">2010</text>
<text transform="translate(1773.9 1487.2) rotate(-90)" text-anchor="end" font-size="26.5" textLength="49.7" lengthAdjust="spacingAndGlyphs" class="lab">2011</text>
<text transform="translate(1822.1 1487.2) rotate(-90)" text-anchor="end" font-size="26.5" textLength="55.7" lengthAdjust="spacingAndGlyphs" class="lab">2012</text>
<text transform="translate(1870.2 1487.2) rotate(-90)" text-anchor="end" font-size="26.5" textLength="58.2" lengthAdjust="spacingAndGlyphs" class="lab">2013</text>
<text transform="translate(1918.4 1487.2) rotate(-90)" text-anchor="end" font-size="26.5" textLength="58.2" lengthAdjust="spacingAndGlyphs" class="lab">2014</text>
<text transform="translate(1966.6 1487.2) rotate(-90)" text-anchor="end" font-size="26.5" textLength="58.2" lengthAdjust="spacingAndGlyphs" class="lab">2015</text>
<text transform="translate(2014.8 1487.2) rotate(-90)" text-anchor="end" font-size="26.5" textLength="58.2" lengthAdjust="spacingAndGlyphs" class="lab">2016</text>
<text transform="translate(2062.9 1487.2) rotate(-90)" text-anchor="end" font-size="26.5" textLength="58.2" lengthAdjust="spacingAndGlyphs" class="lab">2017</text>
<polyline points="1232.1,1286.5 1280.2,1289.6 1328.4,1283.4 1376.6,1250.7 1424.8,1236.7 1472.9,1233.6 1521.1,1224.3 1569.2,1196.3 1617.4,1157.4 1665.6,1225.8 1713.8,1242.9 1761.9,1284.9 1810.1,1292.7 1858.2,1297.4 1906.4,1306.7 1954.6,1306.7 2002.8,1336.2 2050.9,1328.5" fill="none" stroke="#1F4E7E" stroke-width="4.6" stroke-linejoin="round" stroke-linecap="round"/>
<polyline points="1232.1,1317.6 1280.2,1302 1328.4,1294.3 1376.6,1270.9 1424.8,1269.4 1472.9,1261.6 1521.1,1278.7 1569.2,1236.7 1617.4,1211.9 1665.6,1211.9 1713.8,1230.5 1761.9,1269.4 1810.1,1292.7 1858.2,1312.9 1906.4,1326.9 1954.6,1312.9 2002.8,1336.2 2050.9,1329.4" fill="none" stroke="#7A1A1A" stroke-width="4.6" stroke-linejoin="round" stroke-linecap="round"/>
<polyline points="1232.1,1345.6 1280.2,1320.7 1328.4,1328.5 1376.6,1300.5 1424.8,1298.9 1472.9,1278.7 1521.1,1283.4 1569.2,1272.5 1617.4,1260 1665.6,1289.6 1713.8,1320.7 1761.9,1368.9 1810.1,1375.1 1858.2,1372 1906.4,1393.8 1954.6,1381.3 2002.8,1400 2050.9,1396.9" fill="none" stroke="#668A2E" stroke-width="4.6" stroke-linejoin="round" stroke-linecap="round"/>
<polyline points="1232.1,1311.4 1280.2,1298.9 1328.4,1308.2 1376.6,1267.8 1424.8,1298.9 1472.9,1264.7 1521.1,1239.8 1569.2,1242.9 1617.4,1213.4 1665.6,1261.6 1713.8,1298.9 1761.9,1336.2 1810.1,1353.3 1858.2,1348.7 1906.4,1356.4 1954.6,1337.8 2002.8,1365.8 2050.9,1359.5" fill="none" stroke="#40235E" stroke-width="4.6" stroke-linejoin="round" stroke-linecap="round"/>
<polyline points="1232.1,1267.8 1280.2,1280.3 1328.4,1289.6 1376.6,1274 1424.8,1258.5 1472.9,1215 1521.1,1241.4 1569.2,1224.3 1617.4,1193.2 1665.6,1233.6 1713.8,1261.6 1761.9,1311.4 1810.1,1326.9 1858.2,1323.8 1906.4,1333.1 1954.6,1330 2002.8,1350.2 2050.9,1347.1" fill="none" stroke="#1E6F80" stroke-width="4.6" stroke-linejoin="round" stroke-linecap="round"/>
<polyline points="1232.1,1110.8 1280.2,1075 1328.4,1137.2 1376.6,1146.6 1424.8,1113.9 1472.9,1095.2 1521.1,1048.6 1569.2,1039.3 1617.4,1011.3 1665.6,1110.8 1713.8,1137.2 1761.9,1202.5 1810.1,1188.5 1858.2,1183.2 1906.4,1182.3 1954.6,1194.7 2002.8,1260 2050.9,1252.3" fill="none" stroke="#A85E18" stroke-width="4.6" stroke-linejoin="round" stroke-linecap="round"/>
<polyline points="1232.1,1305.1 1280.2,1319.1 1328.4,1312.9 1376.6,1274 1424.8,1269.4 1472.9,1238.3 1521.1,1239.8 1569.2,1249.2 1617.4,1205.6 1665.6,1255.4 1713.8,1270.9 1761.9,1302 1810.1,1305.1 1858.2,1326.9 1906.4,1334.7 1954.6,1336.2 2002.8,1370.4 2050.9,1364.2" fill="none" stroke="#2F6BA6" stroke-width="4.6" stroke-linejoin="round" stroke-linecap="round"/>
<polyline points="1232.1,1316 1280.2,1292.7 1328.4,1306.7 1376.6,1311.4 1424.8,1267.8 1472.9,1260 1521.1,1266.3 1569.2,1222.7 1617.4,1177.6 1665.6,1211.9 1713.8,1232.1 1761.9,1266.3 1810.1,1291.1 1858.2,1309.8 1906.4,1325.3 1954.6,1319.1 2002.8,1342.4 2050.9,1345.6" fill="none" stroke="#A52A2A" stroke-width="4.6" stroke-linejoin="round" stroke-linecap="round"/>
<polyline points="1232.1,1281.8 1280.2,1280.3 1328.4,1289.6 1376.6,1270.9 1424.8,1246.1 1472.9,1213.4 1521.1,1216.5 1569.2,1180.8 1617.4,1185.4 1665.6,1208.7 1713.8,1238.3 1761.9,1283.4 1810.1,1308.2 1858.2,1316 1906.4,1330 1954.6,1316 2002.8,1345.6 2050.9,1345.6" fill="none" stroke="#86AE48" stroke-width="4.6" stroke-linejoin="round" stroke-linecap="round"/>
<polyline points="1232.1,1267.8 1280.2,1266.3 1328.4,1263.2 1376.6,1218.1 1424.8,1185.4 1472.9,1183.9 1521.1,1180.8 1569.2,1137.2 1617.4,1109.9 1665.6,1146.6 1713.8,1145.9 1761.9,1173 1810.1,1199.4 1858.2,1198.8 1906.4,1220.6 1954.6,1215.6 2002.8,1250.7 2050.9,1216.5" fill="none" stroke="#62468E" stroke-width="4.6" stroke-linejoin="round" stroke-linecap="round"/>
<polyline points="1232.1,1267.8 1280.2,1280.3 1328.4,1289.6 1376.6,1270.9 1424.8,1255.4 1472.9,1188.5 1521.1,1182.3 1569.2,1134.1 1617.4,1062.6 1665.6,1159 1713.8,1211.9 1761.9,1277.1 1810.1,1294.3 1858.2,1317.6 1906.4,1331.6 1954.6,1333.1 2002.8,1361.7 2050.9,1357.7" fill="none" stroke="#2E96B8" stroke-width="4.6" stroke-linejoin="round" stroke-linecap="round"/>
<polyline points="1232.1,1122.3 1280.2,1129.5 1328.4,1152.8 1376.6,1078.1 1424.8,1065.7 1472.9,1009.1 1521.1,1020.6 1569.2,1013.5 1617.4,979.3 1665.6,1022.2 1713.8,1036.2 1761.9,1095.2 1810.1,1134.1 1858.2,1123.2 1906.4,1117 1954.6,1155.9 2002.8,1230.5 2050.9,1219.6" fill="none" stroke="#EA8338" stroke-width="4.6" stroke-linejoin="round" stroke-linecap="round"/>
<polyline points="1232.1,1300.5 1280.2,1249.2 1328.4,1249.2 1376.6,1218.1 1424.8,1215 1472.9,1208.7 1521.1,1205.6 1569.2,1197.9 1617.4,1154.3 1665.6,1183.9 1713.8,1204.1 1761.9,1252.3 1810.1,1272.5 1858.2,1261.6 1906.4,1258.5 1954.6,1255.4 2002.8,1300.5 2050.9,1281.8" fill="none" stroke="#93A6CC" stroke-width="4.6" stroke-linejoin="round" stroke-linecap="round"/>
<rect x="166" y="1688.8" width="867.6" height="532.7" fill="#ececec"/>
<path d="M155 2221.5H1033.6M155 2145.4H1033.6M155 2069.3H1033.6M155 1993.2H1033.6M155 1917.1H1033.6M155 1841H1033.6M155 1764.9H1033.6M155 1688.8H1033.6M166 1688.8V2231.5M214.2 1688.8V2231.5M262.4 1688.8V2231.5M310.6 1688.8V2231.5M358.8 1688.8V2231.5M407 1688.8V2231.5M455.2 1688.8V2231.5M503.4 1688.8V2231.5M551.6 1688.8V2231.5M599.8 1688.8V2231.5M648 1688.8V2231.5M696.2 1688.8V2231.5M744.4 1688.8V2231.5M792.6 1688.8V2231.5M840.8 1688.8V2231.5M889 1688.8V2231.5M937.2 1688.8V2231.5M985.4 1688.8V2231.5M1033.6 1688.8V2231.5" stroke="#a2a2a2" stroke-width="2.5" fill="none"/>
<text x="139" y="2230.9" text-anchor="end" font-size="23" textLength="16.3" lengthAdjust="spacingAndGlyphs" class="lab">0</text>
<text x="139" y="2154.8" text-anchor="end" font-size="23" textLength="89" lengthAdjust="spacingAndGlyphs" class="lab">20,000</text>
<text x="139" y="2078.7" text-anchor="end" font-size="23" textLength="89" lengthAdjust="spacingAndGlyphs" class="lab">40,000</text>
<text x="139" y="2002.6" text-anchor="end" font-size="23" textLength="89" lengthAdjust="spacingAndGlyphs" class="lab">60,000</text>
<text x="139" y="1926.5" text-anchor="end" font-size="23" textLength="89" lengthAdjust="spacingAndGlyphs" class="lab">80,000</text>
<text x="139" y="1850.4" text-anchor="end" font-size="23" textLength="105.3" lengthAdjust="spacingAndGlyphs" class="lab">100,000</text>
<text x="139" y="1774.3" text-anchor="end" font-size="23" textLength="105.3" lengthAdjust="spacingAndGlyphs" class="lab">120,000</text>
<text x="139" y="1698.2" text-anchor="end" font-size="23" textLength="105.3" lengthAdjust="spacingAndGlyphs" class="lab">140,000</text>
<text transform="translate(202.1 2244) rotate(-90)" text-anchor="end" font-size="26.5" textLength="66.7" lengthAdjust="spacingAndGlyphs" class="lab">2000</text>
<text transform="translate(250.3 2244) rotate(-90)" text-anchor="end" font-size="26.5" textLength="58.2" lengthAdjust="spacingAndGlyphs" class="lab">2001</text>
<text transform="translate(298.5 2244) rotate(-90)" text-anchor="end" font-size="26.5" textLength="64.2" lengthAdjust="spacingAndGlyphs" class="lab">2002</text>
<text transform="translate(346.7 2244) rotate(-90)" text-anchor="end" font-size="26.5" textLength="66.7" lengthAdjust="spacingAndGlyphs" class="lab">2003</text>
<text transform="translate(394.9 2244) rotate(-90)" text-anchor="end" font-size="26.5" textLength="66.7" lengthAdjust="spacingAndGlyphs" class="lab">2004</text>
<text transform="translate(443.1 2244) rotate(-90)" text-anchor="end" font-size="26.5" textLength="66.7" lengthAdjust="spacingAndGlyphs" class="lab">2005</text>
<text transform="translate(491.3 2244) rotate(-90)" text-anchor="end" font-size="26.5" textLength="66.7" lengthAdjust="spacingAndGlyphs" class="lab">2006</text>
<text transform="translate(539.5 2244) rotate(-90)" text-anchor="end" font-size="26.5" textLength="66.7" lengthAdjust="spacingAndGlyphs" class="lab">2007</text>
<text transform="translate(587.7 2244) rotate(-90)" text-anchor="end" font-size="26.5" textLength="66.7" lengthAdjust="spacingAndGlyphs" class="lab">2008</text>
<text transform="translate(635.9 2244) rotate(-90)" text-anchor="end" font-size="26.5" textLength="66.7" lengthAdjust="spacingAndGlyphs" class="lab">2009</text>
<text transform="translate(684.1 2244) rotate(-90)" text-anchor="end" font-size="26.5" textLength="58.2" lengthAdjust="spacingAndGlyphs" class="lab">2010</text>
<text transform="translate(732.3 2244) rotate(-90)" text-anchor="end" font-size="26.5" textLength="49.7" lengthAdjust="spacingAndGlyphs" class="lab">2011</text>
<text transform="translate(780.5 2244) rotate(-90)" text-anchor="end" font-size="26.5" textLength="55.7" lengthAdjust="spacingAndGlyphs" class="lab">2012</text>
<text transform="translate(828.7 2244) rotate(-90)" text-anchor="end" font-size="26.5" textLength="58.2" lengthAdjust="spacingAndGlyphs" class="lab">2013</text>
<text transform="translate(876.9 2244) rotate(-90)" text-anchor="end" font-size="26.5" textLength="58.2" lengthAdjust="spacingAndGlyphs" class="lab">2014</text>
<text transform="translate(925.1 2244) rotate(-90)" text-anchor="end" font-size="26.5" textLength="58.2" lengthAdjust="spacingAndGlyphs" class="lab">2015</text>
<text transform="translate(973.3 2244) rotate(-90)" text-anchor="end" font-size="26.5" textLength="58.2" lengthAdjust="spacingAndGlyphs" class="lab">2016</text>
<text transform="translate(1021.5 2244) rotate(-90)" text-anchor="end" font-size="26.5" textLength="58.2" lengthAdjust="spacingAndGlyphs" class="lab">2017</text>
<polyline points="190.1,2022.3 238.3,2019.2 286.5,2033.1 334.7,2026.9 382.9,1950.7 431.1,1957 479.3,1952.3 527.5,1953.9 575.7,1961.6 623.9,1933.6 672.1,1927.4 720.3,1946.1 768.5,2051.8 816.7,1991.2 864.9,1953.9 913.1,1946.1 961.3,1899.4 1009.5,1888.6" fill="none" stroke="#1F4E7E" stroke-width="4.6" stroke-linejoin="round" stroke-linecap="round"/>
<polyline points="190.1,2047.1 238.3,2025.4 286.5,2014.5 334.7,2019.2 382.9,1983.4 431.1,1989.6 479.3,1939.9 527.5,1925.9 575.7,1953.9 623.9,1936.8 672.1,1946.1 720.3,1967.9 768.5,2061.1 816.7,1994.3 864.9,1939.9 913.1,1955.4 961.3,1911.9 1009.5,1904.1" fill="none" stroke="#7A1A1A" stroke-width="4.6" stroke-linejoin="round" stroke-linecap="round"/>
<polyline points="190.1,2017.6 238.3,2047.1 286.5,2030 334.7,1985 382.9,1944.5 431.1,1957 479.3,1972.5 527.5,1974.1 575.7,1924.3 623.9,1876.1 672.1,1851.2 720.3,1887 768.5,2016 816.7,1930.5 864.9,1890.1 913.1,1860.6 961.3,1824.8 1009.5,1810.8" fill="none" stroke="#668A2E" stroke-width="4.6" stroke-linejoin="round" stroke-linecap="round"/>
<polyline points="190.1,2081.3 238.3,2081.3 286.5,2081.3 334.7,2053.4 382.9,1986.5 431.1,1998.9 479.3,1997.4 527.5,1986.5 575.7,1989.6 623.9,1935.2 672.1,1936.8 720.3,1952.3 768.5,2048.7 816.7,1986.5 864.9,1958.5 913.1,1946.1 961.3,1901 1009.5,1883.9" fill="none" stroke="#40235E" stroke-width="4.6" stroke-linejoin="round" stroke-linecap="round"/>
<polyline points="190.1,2033.1 238.3,2058 286.5,2036.3 334.7,2014.5 382.9,1969.4 431.1,1946.1 479.3,1919.7 527.5,1943 575.7,1966.3 623.9,1947.6 672.1,1879.2 720.3,1911.9 768.5,2056.5 816.7,1985 864.9,1919.7 913.1,1896.3 961.3,1838.8 1009.5,1805.5" fill="none" stroke="#1E6F80" stroke-width="4.6" stroke-linejoin="round" stroke-linecap="round"/>
<polyline points="190.1,2030 238.3,2059.6 286.5,2039.4 334.7,2030 382.9,1974.1 431.1,1971 479.3,1991.2 527.5,1988.1 575.7,1980.3 623.9,1927.4 672.1,1902.6 720.3,1933.6 768.5,2058 816.7,1998.9 864.9,1919.7 913.1,1939.9 961.3,1907.2 1009.5,1893.2" fill="none" stroke="#A85E18" stroke-width="4.6" stroke-linejoin="round" stroke-linecap="round"/>
<polyline points="190.1,2036.3 238.3,2062.7 286.5,2039.4 334.7,2030 382.9,1964.7 431.1,1955.4 479.3,1950.7 527.5,1952.3 575.7,1961.6 623.9,1935.2 672.1,1919.7 720.3,1950.7 768.5,2050.3 816.7,1994.3 864.9,1955.4 913.1,1944.5 961.3,1902.6 1009.5,1891.7" fill="none" stroke="#2F6BA6" stroke-width="4.6" stroke-linejoin="round" stroke-linecap="round"/>
<polyline points="190.1,2089.1 238.3,2100 286.5,2078.2 334.7,2062.7 382.9,2042.5 431.1,2062.7 479.3,2045.6 527.5,2045.6 575.7,2045.6 623.9,2014.5 672.1,2005.2 720.3,2022.3 768.5,2104.7 816.7,2064.2 864.9,2039.4 913.1,2017.6 961.3,1978.7 1009.5,1969.4" fill="none" stroke="#A52A2A" stroke-width="4.6" stroke-linejoin="round" stroke-linecap="round"/>
<polyline points="190.1,2079.8 238.3,2086 286.5,2058 334.7,2047.1 382.9,2020.7 431.1,2030 479.3,2014.5 527.5,1997.4 575.7,1997.4 623.9,1955.4 672.1,1961.6 720.3,1955.4 768.5,2075.1 816.7,2012.9 864.9,1969.4 913.1,1964.7 961.3,1930.5 1009.5,1922.8" fill="none" stroke="#86AE48" stroke-width="4.6" stroke-linejoin="round" stroke-linecap="round"/>
<polyline points="190.1,1989.6 238.3,2003.6 286.5,1963.2 334.7,1944.5 382.9,1891.7 431.1,1880.8 479.3,1873 527.5,1862.1 575.7,1852.8 623.9,1829.5 672.1,1827.9 720.3,1835.7 768.5,1916.5 816.7,1887 864.9,1806.2 913.1,1840.4 961.3,1785.9 1009.5,1753.3" fill="none" stroke="#62468E" stroke-width="4.6" stroke-linejoin="round" stroke-linecap="round"/>
<polyline points="190.1,2048.7 238.3,2073.6 286.5,2064.2 334.7,2050.3 382.9,2014.5 431.1,2012.9 479.3,2002.1 527.5,2019.2 575.7,2019.2 623.9,1988.1 672.1,1969.4 720.3,2000.5 768.5,2067.4 816.7,2034.7 864.9,1975.6 913.1,1952.3 961.3,1919.7 1009.5,1908.8" fill="none" stroke="#2E96B8" stroke-width="4.6" stroke-linejoin="round" stroke-linecap="round"/>
<polyline points="190.1,2030 238.3,2036.3 286.5,2012.9 334.7,2051.8 382.9,1998.9 431.1,1997.4 479.3,1988.1 527.5,1977.2 575.7,1908.8 623.9,1910.3 672.1,1893.2 720.3,1932.1 768.5,2042.5 816.7,1998.9 864.9,1936.8 913.1,1896.3 961.3,1854.4 1009.5,1812.4" fill="none" stroke="#EA8338" stroke-width="4.6" stroke-linejoin="round" stroke-linecap="round"/>
<polyline points="190.1,2059.6 238.3,2079.8 286.5,2037.8 334.7,2023.8 382.9,1986.5 431.1,1975.6 479.3,1958.5 527.5,1961.6 575.7,1997.4 623.9,1936.8 672.1,1911.9 720.3,1949.2 768.5,2028.5 816.7,1967.9 864.9,1876.1 913.1,1901 961.3,1849.7 1009.5,1824.8" fill="none" stroke="#93A6CC" stroke-width="4.6" stroke-linejoin="round" stroke-linecap="round"/>
<rect x="1220" y="1688.8" width="867.7" height="532.7" fill="#ececec"/>
<path d="M1209 2221.5H2087.7M1209 2162.3H2087.7M1209 2103.1H2087.7M1209 2043.9H2087.7M1209 1984.7H2087.7M1209 1925.6H2087.7M1209 1866.4H2087.7M1209 1807.2H2087.7M1209 1748H2087.7M1209 1688.8H2087.7M1220 1688.8V2231.5M1268.2 1688.8V2231.5M1316.4 1688.8V2231.5M1364.6 1688.8V2231.5M1412.8 1688.8V2231.5M1461 1688.8V2231.5M1509.2 1688.8V2231.5M1557.4 1688.8V2231.5M1605.6 1688.8V2231.5M1653.8 1688.8V2231.5M1702.1 1688.8V2231.5M1750.3 1688.8V2231.5M1798.5 1688.8V2231.5M1846.7 1688.8V2231.5M1894.9 1688.8V2231.5M1943.1 1688.8V2231.5M1991.3 1688.8V2231.5M2039.5 1688.8V2231.5M2087.7 1688.8V2231.5" stroke="#a2a2a2" stroke-width="2.5" fill="none"/>
<text x="1193" y="2230.9" text-anchor="end" font-size="23" textLength="16.3" lengthAdjust="spacingAndGlyphs" class="lab">0</text>
<text x="1193" y="2171.7" text-anchor="end" font-size="23" textLength="89" lengthAdjust="spacingAndGlyphs" class="lab">20,000</text>
<text x="1193" y="2112.5" text-anchor="end" font-size="23" textLength="89" lengthAdjust="spacingAndGlyphs" class="lab">40,000</text>
<text x="1193" y="2053.3" text-anchor="end" font-size="23" textLength="89" lengthAdjust="spacingAndGlyphs" class="lab">60,000</text>
<text x="1193" y="1994.1" text-anchor="end" font-size="23" textLength="89" lengthAdjust="spacingAndGlyphs" class="lab">80,000</text>
<text x="1193" y="1935" text-anchor="end" font-size="23" textLength="105.3" lengthAdjust="spacingAndGlyphs" class="lab">100,000</text>
<text x="1193" y="1875.8" text-anchor="end" font-size="23" textLength="105.3" lengthAdjust="spacingAndGlyphs" class="lab">120,000</text>
<text x="1193" y="1816.6" text-anchor="end" font-size="23" textLength="105.3" lengthAdjust="spacingAndGlyphs" class="lab">140,000</text>
<text x="1193" y="1757.4" text-anchor="end" font-size="23" textLength="105.3" lengthAdjust="spacingAndGlyphs" class="lab">160,000</text>
<text x="1193" y="1698.2" text-anchor="end" font-size="23" textLength="105.3" lengthAdjust="spacingAndGlyphs" class="lab">180,000</text>
<text transform="translate(1256.1 2244) rotate(-90)" text-anchor="end" font-size="26.5" textLength="66.7" lengthAdjust="spacingAndGlyphs" class="lab">2000</text>
<text transform="translate(1304.3 2244) rotate(-90)" text-anchor="end" font-size="26.5" textLength="58.2" lengthAdjust="spacingAndGlyphs" class="lab">2001</text>
<text transform="translate(1352.5 2244) rotate(-90)" text-anchor="end" font-size="26.5" textLength="64.2" lengthAdjust="spacingAndGlyphs" class="lab">2002</text>
<text transform="translate(1400.7 2244) rotate(-90)" text-anchor="end" font-size="26.5" textLength="66.7" lengthAdjust="spacingAndGlyphs" class="lab">2003</text>
<text transform="translate(1448.9 2244) rotate(-90)" text-anchor="end" font-size="26.5" textLength="66.7" lengthAdjust="spacingAndGlyphs" class="lab">2004</text>
<text transform="translate(1497.1 2244) rotate(-90)" text-anchor="end" font-size="26.5" textLength="66.7" lengthAdjust="spacingAndGlyphs" class="lab">2005</text>
<text transform="translate(1545.3 2244) rotate(-90)" text-anchor="end" font-size="26.5" textLength="66.7" lengthAdjust="spacingAndGlyphs" class="lab">2006</text>
<text transform="translate(1593.5 2244) rotate(-90)" text-anchor="end" font-size="26.5" textLength="66.7" lengthAdjust="spacingAndGlyphs" class="lab">2007</text>
<text transform="translate(1641.7 2244) rotate(-90)" text-anchor="end" font-size="26.5" textLength="66.7" lengthAdjust="spacingAndGlyphs" class="lab">2008</text>
<text transform="translate(1690 2244) rotate(-90)" text-anchor="end" font-size="26.5" textLength="66.7" lengthAdjust="spacingAndGlyphs" class="lab">2009</text>
<text transform="translate(1738.2 2244) rotate(-90)" text-anchor="end" font-size="26.5" textLength="58.2" lengthAdjust="spacingAndGlyphs" class="lab">2010</text>
<text transform="translate(1786.4 2244) rotate(-90)" text-anchor="end" font-size="26.5" textLength="49.7" lengthAdjust="spacingAndGlyphs" class="lab">2011</text>
<text transform="translate(1834.6 2244) rotate(-90)" text-anchor="end" font-size="26.5" textLength="55.7" lengthAdjust="spacingAndGlyphs" class="lab">2012</text>
<text transform="translate(1882.8 2244) rotate(-90)" text-anchor="end" font-size="26.5" textLength="58.2" lengthAdjust="spacingAndGlyphs" class="lab">2013</text>
<text transform="translate(1931 2244) rotate(-90)" text-anchor="end" font-size="26.5" textLength="58.2" lengthAdjust="spacingAndGlyphs" class="lab">2014</text>
<text transform="translate(1979.2 2244) rotate(-90)" text-anchor="end" font-size="26.5" textLength="58.2" lengthAdjust="spacingAndGlyphs" class="lab">2015</text>
<text transform="translate(2027.4 2244) rotate(-90)" text-anchor="end" font-size="26.5" textLength="58.2" lengthAdjust="spacingAndGlyphs" class="lab">2016</text>
<text transform="translate(2075.6 2244) rotate(-90)" text-anchor="end" font-size="26.5" textLength="58.2" lengthAdjust="spacingAndGlyphs" class="lab">2017</text>
<polyline points="1244.1,2031.6 1292.3,2031.6 1340.5,2040.9 1388.7,2022.3 1436.9,2026.9 1485.1,2014.5 1533.3,1981.8 1581.5,1989.6 1629.7,2022.3 1678,1995.8 1726.2,2053.4 1774.4,2072 1822.6,2087.6 1870.8,2101.6 1919,2115.5 1967.2,2110.9 2015.4,2104.7 2063.6,2098.4" fill="none" stroke="#1F4E7E" stroke-width="4.6" stroke-linejoin="round" stroke-linecap="round"/>
<polyline points="1244.1,2131.1 1292.3,2126.4 1340.5,2118.7 1388.7,2114 1436.9,2101.6 1485.1,2092.2 1533.3,2058 1581.5,2047.1 1629.7,2037.8 1678,2005.2 1726.2,2075.1 1774.4,2075.1 1822.6,2089.1 1870.8,2098.4 1919,2115.5 1967.2,2106.2 2015.4,2103.1 2063.6,2096.9" fill="none" stroke="#7A1A1A" stroke-width="4.6" stroke-linejoin="round" stroke-linecap="round"/>
<polyline points="1244.1,1857.5 1292.3,1846 1340.5,1873.9 1388.7,1848.1 1436.9,1827.9 1485.1,1820.2 1533.3,1746.5 1581.5,1755.8 1629.7,1789.1 1678,1762.6 1726.2,1919.7 1774.4,1938.3 1822.6,1938.3 1870.8,1967.9 1919,2012.9 1967.2,2012.9 2015.4,2002.1 2063.6,1998.9" fill="none" stroke="#668A2E" stroke-width="4.6" stroke-linejoin="round" stroke-linecap="round"/>
<polyline points="1244.1,2073.6 1292.3,2061.1 1340.5,2062.7 1388.7,2056.5 1436.9,2086 1485.1,2031.6 1533.3,2012.9 1581.5,1986.5 1629.7,2034.7 1678,2026.9 1726.2,2076.7 1774.4,2104.7 1822.6,2109.3 1870.8,2117.1 1919,2129.5 1967.2,2124.9 2015.4,2123.3 2063.6,2121.8" fill="none" stroke="#40235E" stroke-width="4.6" stroke-linejoin="round" stroke-linecap="round"/>
<polyline points="1244.1,2092.2 1292.3,2089.1 1340.5,2076.7 1388.7,2062.7 1436.9,2075.1 1485.1,2050.3 1533.3,2017.6 1581.5,1992.7 1629.7,1958.5 1678,1874.6 1726.2,1972.5 1774.4,2000.5 1822.6,2008.3 1870.8,2028.5 1919,2047.1 1967.2,2044 2015.4,2045.6 2063.6,2037.8" fill="none" stroke="#1E6F80" stroke-width="4.6" stroke-linejoin="round" stroke-linecap="round"/>
<polyline points="1244.1,2050.3 1292.3,2054.9 1340.5,2050.3 1388.7,2045.6 1436.9,2023.8 1485.1,1988.1 1533.3,2037.8 1581.5,2009.8 1629.7,1992.7 1678,1988.1 1726.2,2061.1 1774.4,2065.8 1822.6,2089.1 1870.8,2101.6 1919,2106.2 1967.2,2120.2 2015.4,2121.8 2063.6,2118.7" fill="none" stroke="#A85E18" stroke-width="4.6" stroke-linejoin="round" stroke-linecap="round"/>
<polyline points="1244.1,2073.6 1292.3,2067.4 1340.5,2078.2 1388.7,2053.4 1436.9,2034.7 1485.1,2026.9 1533.3,1980.3 1581.5,1911.9 1629.7,1832.6 1678,1813.9 1726.2,1947.6 1774.4,1989.6 1822.6,2011.4 1870.8,2040.9 1919,2070.5 1967.2,2065.8 2015.4,2062.7 2063.6,2059.6" fill="none" stroke="#2F6BA6" stroke-width="4.6" stroke-linejoin="round" stroke-linecap="round"/>
<polyline points="1244.1,2096.9 1292.3,2076.7 1340.5,2073.6 1388.7,2072 1436.9,2054.9 1485.1,2039.4 1533.3,2019.2 1581.5,1997.4 1629.7,2033.1 1678,1952.3 1726.2,2034.7 1774.4,2048.7 1822.6,2068.9 1870.8,2084.5 1919,2100 1967.2,2100 2015.4,2100 2063.6,2098.4" fill="none" stroke="#A52A2A" stroke-width="4.6" stroke-linejoin="round" stroke-linecap="round"/>
<polyline points="1244.1,2079.8 1292.3,2064.2 1340.5,2048.7 1388.7,2039.4 1436.9,2036.3 1485.1,2005.2 1533.3,1927.4 1581.5,1949.2 1629.7,1953.9 1678,1921.2 1726.2,2019.2 1774.4,2037.8 1822.6,2051.8 1870.8,2070.5 1919,2089.1 1967.2,2090.7 2015.4,2090.7 2063.6,2086" fill="none" stroke="#86AE48" stroke-width="4.6" stroke-linejoin="round" stroke-linecap="round"/>
<polyline points="1244.1,1963.2 1292.3,1960.1 1340.5,1985 1388.7,1980.3 1436.9,1964.7 1485.1,1950.7 1533.3,1930.5 1581.5,1919.7 1629.7,1936.8 1678,1915 1726.2,2031.6 1774.4,2040.9 1822.6,2045.6 1870.8,2059.6 1919,2076.7 1967.2,2062.7 2015.4,2061.1 2063.6,2051.8" fill="none" stroke="#62468E" stroke-width="4.6" stroke-linejoin="round" stroke-linecap="round"/>
<polyline points="1244.1,2047.1 1292.3,2053.4 1340.5,2061.1 1388.7,2048.7 1436.9,2045.6 1485.1,1969.4 1533.3,1986.5 1581.5,1994.3 1629.7,2017.6 1678,2026.9 1726.2,2087.6 1774.4,2098.4 1822.6,2103.1 1870.8,2115.5 1919,2132.7 1967.2,2126.4 2015.4,2123.3 2063.6,2121.8" fill="none" stroke="#2E96B8" stroke-width="4.6" stroke-linejoin="round" stroke-linecap="round"/>
<polyline points="1244.1,2109.3 1292.3,2092.2 1340.5,2101.6 1388.7,2092.2 1436.9,2100 1485.1,2078.2 1533.3,2040.9 1581.5,2012.9 1629.7,2008.3 1678,1986.5 1726.2,2059.6 1774.4,2082.9 1822.6,2098.4 1870.8,2110.9 1919,2124.9 1967.2,2124.9 2015.4,2121.8 2063.6,2118.7" fill="none" stroke="#EA8338" stroke-width="4.6" stroke-linejoin="round" stroke-linecap="round"/>
<polyline points="1244.1,2068.9 1292.3,2058 1340.5,2050.3 1388.7,2040.9 1436.9,2037.8 1485.1,2036.3 1533.3,2022.3 1581.5,1946.1 1629.7,1946.1 1678,1927.4 1726.2,2019.2 1774.4,2033.1 1822.6,2042.5 1870.8,2061.1 1919,2087.6 1967.2,2081.3 2015.4,2075.1 2063.6,2065.8" fill="none" stroke="#93A6CC" stroke-width="4.6" stroke-linejoin="round" stroke-linecap="round"/>
<rect x="148" y="2451.6" width="866.1" height="531.9" fill="#ececec"/>
<path d="M137 2983.5H1014.1M137 2894.8H1014.1M137 2806.2H1014.1M137 2717.6H1014.1M137 2628.9H1014.1M137 2540.2H1014.1M137 2451.6H1014.1M148 2451.6V2993.5M196.1 2451.6V2993.5M244.2 2451.6V2993.5M292.4 2451.6V2993.5M340.5 2451.6V2993.5M388.6 2451.6V2993.5M436.7 2451.6V2993.5M484.8 2451.6V2993.5M532.9 2451.6V2993.5M581 2451.6V2993.5M629.2 2451.6V2993.5M677.3 2451.6V2993.5M725.4 2451.6V2993.5M773.5 2451.6V2993.5M821.6 2451.6V2993.5M869.8 2451.6V2993.5M917.9 2451.6V2993.5M966 2451.6V2993.5M1014.1 2451.6V2993.5" stroke="#a2a2a2" stroke-width="2.5" fill="none"/>
<text x="121" y="2992.9" text-anchor="end" font-size="23" textLength="16.3" lengthAdjust="spacingAndGlyphs" class="lab">0</text>
<text x="121" y="2904.2" text-anchor="end" font-size="23" textLength="89" lengthAdjust="spacingAndGlyphs" class="lab">10,000</text>
<text x="121" y="2815.6" text-anchor="end" font-size="23" textLength="89" lengthAdjust="spacingAndGlyphs" class="lab">20,000</text>
<text x="121" y="2727" text-anchor="end" font-size="23" textLength="89" lengthAdjust="spacingAndGlyphs" class="lab">30,000</text>
<text x="121" y="2638.3" text-anchor="end" font-size="23" textLength="89" lengthAdjust="spacingAndGlyphs" class="lab">40,000</text>
<text x="121" y="2549.7" text-anchor="end" font-size="23" textLength="89" lengthAdjust="spacingAndGlyphs" class="lab">50,000</text>
<text x="121" y="2461" text-anchor="end" font-size="23" textLength="89" lengthAdjust="spacingAndGlyphs" class="lab">60,000</text>
<text transform="translate(184.1 3006) rotate(-90)" text-anchor="end" font-size="26.5" textLength="66.7" lengthAdjust="spacingAndGlyphs" class="lab">2000</text>
<text transform="translate(232.2 3006) rotate(-90)" text-anchor="end" font-size="26.5" textLength="58.2" lengthAdjust="spacingAndGlyphs" class="lab">2001</text>
<text transform="translate(280.3 3006) rotate(-90)" text-anchor="end" font-size="26.5" textLength="64.2" lengthAdjust="spacingAndGlyphs" class="lab">2002</text>
<text transform="translate(328.4 3006) rotate(-90)" text-anchor="end" font-size="26.5" textLength="66.7" lengthAdjust="spacingAndGlyphs" class="lab">2003</text>
<text transform="translate(376.5 3006) rotate(-90)" text-anchor="end" font-size="26.5" textLength="66.7" lengthAdjust="spacingAndGlyphs" class="lab">2004</text>
<text transform="translate(424.6 3006) rotate(-90)" text-anchor="end" font-size="26.5" textLength="66.7" lengthAdjust="spacingAndGlyphs" class="lab">2005</text>
<text transform="translate(472.8 3006) rotate(-90)" text-anchor="end" font-size="26.5" textLength="66.7" lengthAdjust="spacingAndGlyphs" class="lab">2006</text>
<text transform="translate(520.9 3006) rotate(-90)" text-anchor="end" font-size="26.5" textLength="66.7" lengthAdjust="spacingAndGlyphs" class="lab">2007</text>
<text transform="translate(569 3006) rotate(-90)" text-anchor="end" font-size="26.5" textLength="66.7" lengthAdjust="spacingAndGlyphs" class="lab">2008</text>
<text transform="translate(617.1 3006) rotate(-90)" text-anchor="end" font-size="26.5" textLength="66.7" lengthAdjust="spacingAndGlyphs" class="lab">2009</text>
<text transform="translate(665.2 3006) rotate(-90)" text-anchor="end" font-size="26.5" textLength="58.2" lengthAdjust="spacingAndGlyphs" class="lab">2010</text>
<text transform="translate(713.3 3006) rotate(-90)" text-anchor="end" font-size="26.5" textLength="49.7" lengthAdjust="spacingAndGlyphs" class="lab">2011</text>
<text transform="translate(761.5 3006) rotate(-90)" text-anchor="end" font-size="26.5" textLength="55.7" lengthAdjust="spacingAndGlyphs" class="lab">2012</text>
<text transform="translate(809.6 3006) rotate(-90)" text-anchor="end" font-size="26.5" textLength="58.2" lengthAdjust="spacingAndGlyphs" class="lab">2013</text>
<text transform="translate(857.7 3006) rotate(-90)" text-anchor="end" font-size="26.5" textLength="58.2" lengthAdjust="spacingAndGlyphs" class="lab">2014</text>
<text transform="translate(905.8 3006) rotate(-90)" text-anchor="end" font-size="26.5" textLength="58.2" lengthAdjust="spacingAndGlyphs" class="lab">2015</text>
<text transform="translate(953.9 3006) rotate(-90)" text-anchor="end" font-size="26.5" textLength="58.2" lengthAdjust="spacingAndGlyphs" class="lab">2016</text>
<text transform="translate(1002 3006) rotate(-90)" text-anchor="end" font-size="26.5" textLength="58.2" lengthAdjust="spacingAndGlyphs" class="lab">2017</text>
<polyline points="172.1,2789.9 220.2,2780.6 268.3,2782.2 316.4,2754.2 364.5,2744.8 412.6,2771.3 460.8,2737.1 508.9,2754.2 557,2748 605.1,2712.2 653.2,2808.6 701.3,2859.9 749.5,2835 797.6,2838.1 845.7,2852.1 893.8,2845.9 941.9,2863 990,2842.8" fill="none" stroke="#1F4E7E" stroke-width="4.6" stroke-linejoin="round" stroke-linecap="round"/>
<polyline points="172.1,2813.3 220.2,2817.9 268.3,2816.4 316.4,2789.9 364.5,2760.4 412.6,2813.3 460.8,2788.4 508.9,2761.9 557,2777.5 605.1,2761.9 653.2,2814.8 701.3,2836.6 749.5,2863 797.6,2867.7 845.7,2875.4 893.8,2872.3 941.9,2872.3 990,2867.7" fill="none" stroke="#7A1A1A" stroke-width="4.6" stroke-linejoin="round" stroke-linecap="round"/>
<polyline points="172.1,2808.6 220.2,2817.9 268.3,2824.1 316.4,2775.9 364.5,2732.4 412.6,2780.6 460.8,2757.3 508.9,2721.5 557,2671.8 605.1,2743.3 653.2,2746.4 701.3,2707.5 749.5,2752.6 797.6,2847.5 845.7,2867.7 893.8,2872.3 941.9,2878.5 990,2878.5" fill="none" stroke="#668A2E" stroke-width="4.6" stroke-linejoin="round" stroke-linecap="round"/>
<polyline points="172.1,2799.3 220.2,2799.3 268.3,2799.3 316.4,2777.5 364.5,2752.6 412.6,2808.6 460.8,2811.7 508.9,2749.5 557,2771.3 605.1,2780.6 653.2,2866.1 701.3,2886.3 749.5,2905 797.6,2905 845.7,2895.7 893.8,2892.5 941.9,2900.3 990,2895.7" fill="none" stroke="#40235E" stroke-width="4.6" stroke-linejoin="round" stroke-linecap="round"/>
<polyline points="172.1,2852.1 220.2,2833.5 268.3,2817.9 316.4,2766.6 364.5,2817.9 412.6,2831.9 460.8,2807 508.9,2765.1 557,2777.5 605.1,2768.2 653.2,2808.6 701.3,2858.3 749.5,2891 797.6,2889.4 845.7,2870.8 893.8,2884.8 941.9,2878.5 990,2872.3" fill="none" stroke="#1E6F80" stroke-width="4.6" stroke-linejoin="round" stroke-linecap="round"/>
<polyline points="172.1,2864.6 220.2,2873.9 268.3,2850.6 316.4,2813.3 364.5,2788.4 412.6,2836.6 460.8,2811.7 508.9,2741.7 557,2758.8 605.1,2771.3 653.2,2819.5 701.3,2833.5 749.5,2863 797.6,2884.8 845.7,2870.8 893.8,2853.7 941.9,2836.6 990,2841.2" fill="none" stroke="#A85E18" stroke-width="4.6" stroke-linejoin="round" stroke-linecap="round"/>
<polyline points="172.1,2819.5 220.2,2825.7 268.3,2805.5 316.4,2774.4 364.5,2772.8 412.6,2828.8 460.8,2814.8 508.9,2808.6 557,2802.4 605.1,2802.4 653.2,2824.1 701.3,2880.1 749.5,2898.8 797.6,2903.4 845.7,2892.5 893.8,2889.4 941.9,2883.2 990,2875.4" fill="none" stroke="#2F6BA6" stroke-width="4.6" stroke-linejoin="round" stroke-linecap="round"/>
<polyline points="172.1,2785.3 220.2,2761.9 268.3,2716.9 316.4,2732.4 364.5,2749.5 412.6,2796.1 460.8,2775.9 508.9,2765.1 557,2755.7 605.1,2758.8 653.2,2813.3 701.3,2875.4 749.5,2880.1 797.6,2895.7 845.7,2881.7 893.8,2873.9 941.9,2878.5 990,2847.5" fill="none" stroke="#A52A2A" stroke-width="4.6" stroke-linejoin="round" stroke-linecap="round"/>
<polyline points="172.1,2810.1 220.2,2813.3 268.3,2799.3 316.4,2758.8 364.5,2740.2 412.6,2783.7 460.8,2749.5 508.9,2768.2 557,2721.5 605.1,2704.4 653.2,2817.9 701.3,2817.9 749.5,2822.6 797.6,2889.4 845.7,2892.5 893.8,2892.5 941.9,2887.9 990,2880.1" fill="none" stroke="#86AE48" stroke-width="4.6" stroke-linejoin="round" stroke-linecap="round"/>
<polyline points="172.1,2701.3 220.2,2699.8 268.3,2673.3 316.4,2646.3 364.5,2652.5 412.6,2631.3 460.8,2531.2 508.9,2501.4 557,2517.9 605.1,2527.2 653.2,2626.7 701.3,2673.3 749.5,2709.1 797.6,2735.5 845.7,2769.7 893.8,2765.1 941.9,2780.6 990,2761.9" fill="none" stroke="#62468E" stroke-width="4.6" stroke-linejoin="round" stroke-linecap="round"/>
<polyline points="172.1,2824.1 220.2,2786.8 268.3,2768.2 316.4,2743.3 364.5,2791.5 412.6,2796.1 460.8,2737.1 508.9,2709.1 557,2738.6 605.1,2684.2 653.2,2827.2 701.3,2861.4 749.5,2889.4 797.6,2887.9 845.7,2867.7 893.8,2867.7 941.9,2881.7 990,2873.9" fill="none" stroke="#2E96B8" stroke-width="4.6" stroke-linejoin="round" stroke-linecap="round"/>
<polyline points="172.1,2782.2 220.2,2811.7 268.3,2847.5 316.4,2803.9 364.5,2782.2 412.6,2822.6 460.8,2766.6 508.9,2761.9 557,2752.6 605.1,2780.6 653.2,2841.2 701.3,2839.7 749.5,2861.4 797.6,2872.3 845.7,2838.1 893.8,2821 941.9,2827.2 990,2821" fill="none" stroke="#EA8338" stroke-width="4.6" stroke-linejoin="round" stroke-linecap="round"/>
<polyline points="172.1,2758.8 220.2,2785.3 268.3,2716.9 316.4,2677.4 364.5,2761.9 412.6,2755.7 460.8,2732.4 508.9,2741.7 557,2748 605.1,2757.3 653.2,2796.1 701.3,2825.7 749.5,2836.6 797.6,2838.1 845.7,2827.2 893.8,2830.4 941.9,2830.4 990,2814.8" fill="none" stroke="#93A6CC" stroke-width="4.6" stroke-linejoin="round" stroke-linecap="round"/>
<rect x="1203.5" y="2440.3" width="865.7" height="531.3" fill="#ececec"/>
<path d="M1192.5 2971.6H2069.2M1192.5 2883.1H2069.2M1192.5 2794.5H2069.2M1192.5 2705.9H2069.2M1192.5 2617.4H2069.2M1192.5 2528.9H2069.2M1192.5 2440.3H2069.2M1203.5 2440.3V2981.6M1251.6 2440.3V2981.6M1299.7 2440.3V2981.6M1347.8 2440.3V2981.6M1395.9 2440.3V2981.6M1444 2440.3V2981.6M1492.1 2440.3V2981.6M1540.2 2440.3V2981.6M1588.3 2440.3V2981.6M1636.3 2440.3V2981.6M1684.4 2440.3V2981.6M1732.5 2440.3V2981.6M1780.6 2440.3V2981.6M1828.7 2440.3V2981.6M1876.8 2440.3V2981.6M1924.9 2440.3V2981.6M1973 2440.3V2981.6M2021.1 2440.3V2981.6M2069.2 2440.3V2981.6" stroke="#a2a2a2" stroke-width="2.5" fill="none"/>
<text x="1176.5" y="2981" text-anchor="end" font-size="23" textLength="16.3" lengthAdjust="spacingAndGlyphs" class="lab">0</text>
<text x="1176.5" y="2892.5" text-anchor="end" font-size="23" textLength="89" lengthAdjust="spacingAndGlyphs" class="lab">10,000</text>
<text x="1176.5" y="2803.9" text-anchor="end" font-size="23" textLength="89" lengthAdjust="spacingAndGlyphs" class="lab">20,000</text>
<text x="1176.5" y="2715.3" text-anchor="end" font-size="23" textLength="89" lengthAdjust="spacingAndGlyphs" class="lab">30,000</text>
<text x="1176.5" y="2626.8" text-anchor="end" font-size="23" textLength="89" lengthAdjust="spacingAndGlyphs" class="lab">40,000</text>
<text x="1176.5" y="2538.3" text-anchor="end" font-size="23" textLength="89" lengthAdjust="spacingAndGlyphs" class="lab">50,000</text>
<text x="1176.5" y="2449.7" text-anchor="end" font-size="23" textLength="89" lengthAdjust="spacingAndGlyphs" class="lab">60,000</text>
<text transform="translate(1239.5 2994.1) rotate(-90)" text-anchor="end" font-size="26.5" textLength="66.7" lengthAdjust="spacingAndGlyphs" class="lab">2000</text>
<text transform="translate(1287.6 2994.1) rotate(-90)" text-anchor="end" font-size="26.5" textLength="58.2" lengthAdjust="spacingAndGlyphs" class="lab">2001</text>
<text transform="translate(1335.7 2994.1) rotate(-90)" text-anchor="end" font-size="26.5" textLength="64.2" lengthAdjust="spacingAndGlyphs" class="lab">2002</text>
<text transform="translate(1383.8 2994.1) rotate(-90)" text-anchor="end" font-size="26.5" textLength="66.7" lengthAdjust="spacingAndGlyphs" class="lab">2003</text>
<text transform="translate(1431.9 2994.1) rotate(-90)" text-anchor="end" font-size="26.5" textLength="66.7" lengthAdjust="spacingAndGlyphs" class="lab">2004</text>
<text transform="translate(1480 2994.1) rotate(-90)" text-anchor="end" font-size="26.5" textLength="66.7" lengthAdjust="spacingAndGlyphs" class="lab">2005</text>
<text transform="translate(1528.1 2994.1) rotate(-90)" text-anchor="end" font-size="26.5" textLength="66.7" lengthAdjust="spacingAndGlyphs" class="lab">2006</text>
<text transform="translate(1576.2 2994.1) rotate(-90)" text-anchor="end" font-size="26.5" textLength="66.7" lengthAdjust="spacingAndGlyphs" class="lab">2007</text>
<text transform="translate(1624.3 2994.1) rotate(-90)" text-anchor="end" font-size="26.5" textLength="66.7" lengthAdjust="spacingAndGlyphs" class="lab">2008</text>
<text transform="translate(1672.4 2994.1) rotate(-90)" text-anchor="end" font-size="26.5" textLength="66.7" lengthAdjust="spacingAndGlyphs" class="lab">2009</text>
<text transform="translate(1720.5 2994.1) rotate(-90)" text-anchor="end" font-size="26.5" textLength="58.2" lengthAdjust="spacingAndGlyphs" class="lab">2010</text>
<text transform="translate(1768.6 2994.1) rotate(-90)" text-anchor="end" font-size="26.5" textLength="49.7" lengthAdjust="spacingAndGlyphs" class="lab">2011</text>
<text transform="translate(1816.7 2994.1) rotate(-90)" text-anchor="end" font-size="26.5" textLength="55.7" lengthAdjust="spacingAndGlyphs" class="lab">2012</text>
<text transform="translate(1864.8 2994.1) rotate(-90)" text-anchor="end" font-size="26.5" textLength="58.2" lengthAdjust="spacingAndGlyphs" class="lab">2013</text>
<text transform="translate(1912.9 2994.1) rotate(-90)" text-anchor="end" font-size="26.5" textLength="58.2" lengthAdjust="spacingAndGlyphs" class="lab">2014</text>
<text transform="translate(1961 2994.1) rotate(-90)" text-anchor="end" font-size="26.5" textLength="58.2" lengthAdjust="spacingAndGlyphs" class="lab">2015</text>
<text transform="translate(2009.1 2994.1) rotate(-90)" text-anchor="end" font-size="26.5" textLength="58.2" lengthAdjust="spacingAndGlyphs" class="lab">2016</text>
<text transform="translate(2057.2 2994.1) rotate(-90)" text-anchor="end" font-size="26.5" textLength="58.2" lengthAdjust="spacingAndGlyphs" class="lab">2017</text>
<polyline points="1227.5,2733.8 1275.6,2705.9 1323.7,2679.4 1371.8,2685.6 1419.9,2676.3 1468,2659.2 1516.1,2646.8 1564.2,2646.8 1612.3,2645.2 1660.4,2553.5 1708.5,2564.4 1756.6,2592.4 1804.7,2623.5 1852.8,2681 1900.9,2688.8 1949,2699.6 1997.1,2713.6 2045.2,2712.1" fill="none" stroke="#1F4E7E" stroke-width="4.6" stroke-linejoin="round" stroke-linecap="round"/>
<polyline points="1227.5,2723 1275.6,2682.5 1323.7,2665.4 1371.8,2653 1419.9,2659.2 1468,2639 1516.1,2618.8 1564.2,2631.2 1612.3,2583 1660.4,2559.7 1708.5,2612.6 1756.6,2634.3 1804.7,2635.9 1852.8,2657.7 1900.9,2681 1949,2677.9 1997.1,2687.2 2045.2,2685.6" fill="none" stroke="#7A1A1A" stroke-width="4.6" stroke-linejoin="round" stroke-linecap="round"/>
<polyline points="1227.5,2788.3 1275.6,2771.2 1323.7,2764.9 1371.8,2716.7 1419.9,2698.1 1468,2709 1516.1,2710.5 1564.2,2684.1 1612.3,2639 1660.4,2611 1708.5,2632.8 1756.6,2671.7 1804.7,2676.3 1852.8,2698.1 1900.9,2712.1 1949,2715.2 1997.1,2721.4 2045.2,2724.5" fill="none" stroke="#668A2E" stroke-width="4.6" stroke-linejoin="round" stroke-linecap="round"/>
<polyline points="1227.5,2732.3 1275.6,2713.6 1323.7,2707.4 1371.8,2691.9 1419.9,2688.8 1468,2676.3 1516.1,2665.4 1564.2,2659.2 1612.3,2653 1660.4,2612.6 1708.5,2653 1756.6,2681 1804.7,2676.3 1852.8,2688.8 1900.9,2699.6 1949,2707.4 1997.1,2707.4 2045.2,2707.4" fill="none" stroke="#40235E" stroke-width="4.6" stroke-linejoin="round" stroke-linecap="round"/>
<polyline points="1227.5,2769.6 1275.6,2746.3 1323.7,2716.7 1371.8,2713.6 1419.9,2713.6 1468,2718.3 1516.1,2721.4 1564.2,2704.3 1612.3,2663.9 1660.4,2649.9 1708.5,2648.3 1756.6,2659.2 1804.7,2695 1852.8,2724.5 1900.9,2713.6 1949,2721.4 1997.1,2727.6 2045.2,2729.2" fill="none" stroke="#1E6F80" stroke-width="4.6" stroke-linejoin="round" stroke-linecap="round"/>
<polyline points="1227.5,2741.6 1275.6,2719.9 1323.7,2698.1 1371.8,2657.7 1419.9,2657.7 1468,2570.6 1516.1,2575.3 1564.2,2583 1612.3,2565.9 1660.4,2542.6 1708.5,2607.9 1756.6,2632.8 1804.7,2723 1852.8,2738.5 1900.9,2747.8 1949,2740.1 1997.1,2737 2045.2,2733.8" fill="none" stroke="#A85E18" stroke-width="4.6" stroke-linejoin="round" stroke-linecap="round"/>
<polyline points="1227.5,2757.2 1275.6,2716.7 1323.7,2712.1 1371.8,2713.6 1419.9,2651.4 1468,2645.2 1516.1,2642.1 1564.2,2646.8 1612.3,2645.2 1660.4,2592.4 1708.5,2645.2 1756.6,2662.3 1804.7,2679.4 1852.8,2688.8 1900.9,2693.4 1949,2704.3 1997.1,2702.7 2045.2,2701.2" fill="none" stroke="#2F6BA6" stroke-width="4.6" stroke-linejoin="round" stroke-linecap="round"/>
<polyline points="1227.5,2723 1275.6,2685.6 1323.7,2670.1 1371.8,2653 1419.9,2659.2 1468,2654.6 1516.1,2618.8 1564.2,2632.8 1612.3,2607.9 1660.4,2573.7 1708.5,2632.8 1756.6,2657.7 1804.7,2660.8 1852.8,2688.8 1900.9,2695 1949,2696.5 1997.1,2705.9 2045.2,2705.9" fill="none" stroke="#A52A2A" stroke-width="4.6" stroke-linejoin="round" stroke-linecap="round"/>
<polyline points="1227.5,2744.7 1275.6,2740.1 1323.7,2716.7 1371.8,2690.3 1419.9,2671.7 1468,2679.4 1516.1,2679.4 1564.2,2626.6 1612.3,2567.5 1660.4,2570.6 1708.5,2623.5 1756.6,2657.7 1804.7,2676.3 1852.8,2701.2 1900.9,2712.1 1949,2713.6 1997.1,2721.4 2045.2,2721.4" fill="none" stroke="#86AE48" stroke-width="4.6" stroke-linejoin="round" stroke-linecap="round"/>
<polyline points="1227.5,2716.7 1275.6,2676.3 1323.7,2657.7 1371.8,2639 1419.9,2646.8 1468,2611 1516.1,2593.9 1564.2,2572.2 1612.3,2534.8 1660.4,2509 1708.5,2581.5 1756.6,2614.1 1804.7,2618.8 1852.8,2656.1 1900.9,2667 1949,2668.5 1997.1,2681 2045.2,2681" fill="none" stroke="#62468E" stroke-width="4.6" stroke-linejoin="round" stroke-linecap="round"/>
<polyline points="1227.5,2746.3 1275.6,2735.4 1323.7,2713.6 1371.8,2671.7 1419.9,2704.3 1468,2667 1516.1,2635.9 1564.2,2618.8 1612.3,2598.6 1660.4,2537.9 1708.5,2601.7 1756.6,2631.2 1804.7,2640.6 1852.8,2662.3 1900.9,2662.3 1949,2667 1997.1,2679.4 2045.2,2679.4" fill="none" stroke="#2E96B8" stroke-width="4.6" stroke-linejoin="round" stroke-linecap="round"/>
<polyline points="1227.5,2705.9 1275.6,2670.1 1323.7,2646.8 1371.8,2662.3 1419.9,2620.3 1468,2625 1516.1,2598.6 1564.2,2539.5 1612.3,2555 1660.4,2531.7 1708.5,2604.8 1756.6,2625 1804.7,2707.4 1852.8,2721.4 1900.9,2729.2 1949,2721.4 1997.1,2730.7 2045.2,2738.5" fill="none" stroke="#EA8338" stroke-width="4.6" stroke-linejoin="round" stroke-linecap="round"/>
<polyline points="1227.5,2747.8 1275.6,2732.3 1323.7,2713.6 1371.8,2691.9 1419.9,2648.3 1468,2637.5 1516.1,2634.3 1564.2,2620.3 1612.3,2579.9 1660.4,2567.5 1708.5,2623.5 1756.6,2663.9 1804.7,2676.3 1852.8,2695 1900.9,2707.4 1949,2712.1 1997.1,2716.7 2045.2,2716.7" fill="none" stroke="#93A6CC" stroke-width="4.6" stroke-linejoin="round" stroke-linecap="round"/>
<rect x="150" y="3199.9" width="865.6" height="530.8" fill="#ececec"/>
<path d="M139 3730.7H1015.6M139 3642.2H1015.6M139 3553.8H1015.6M139 3465.3H1015.6M139 3376.8H1015.6M139 3288.4H1015.6M139 3199.9H1015.6M150 3199.9V3740.7M198.1 3199.9V3740.7M246.2 3199.9V3740.7M294.3 3199.9V3740.7M342.4 3199.9V3740.7M390.4 3199.9V3740.7M438.5 3199.9V3740.7M486.6 3199.9V3740.7M534.7 3199.9V3740.7M582.8 3199.9V3740.7M630.9 3199.9V3740.7M679 3199.9V3740.7M727.1 3199.9V3740.7M775.2 3199.9V3740.7M823.2 3199.9V3740.7M871.3 3199.9V3740.7M919.4 3199.9V3740.7M967.5 3199.9V3740.7M1015.6 3199.9V3740.7" stroke="#a2a2a2" stroke-width="2.5" fill="none"/>
<text x="123" y="3740.1" text-anchor="end" font-size="23" textLength="16.3" lengthAdjust="spacingAndGlyphs" class="lab">0</text>
<text x="123" y="3651.6" text-anchor="end" font-size="23" textLength="89" lengthAdjust="spacingAndGlyphs" class="lab">10,000</text>
<text x="123" y="3563.2" text-anchor="end" font-size="23" textLength="89" lengthAdjust="spacingAndGlyphs" class="lab">20,000</text>
<text x="123" y="3474.7" text-anchor="end" font-size="23" textLength="89" lengthAdjust="spacingAndGlyphs" class="lab">30,000</text>
<text x="123" y="3386.2" text-anchor="end" font-size="23" textLength="89" lengthAdjust="spacingAndGlyphs" class="lab">40,000</text>
<text x="123" y="3297.8" text-anchor="end" font-size="23" textLength="89" lengthAdjust="spacingAndGlyphs" class="lab">50,000</text>
<text x="123" y="3209.3" text-anchor="end" font-size="23" textLength="89" lengthAdjust="spacingAndGlyphs" class="lab">60,000</text>
<text transform="translate(186 3753.2) rotate(-90)" text-anchor="end" font-size="26.5" textLength="66.7" lengthAdjust="spacingAndGlyphs" class="lab">2000</text>
<text transform="translate(234.1 3753.2) rotate(-90)" text-anchor="end" font-size="26.5" textLength="58.2" lengthAdjust="spacingAndGlyphs" class="lab">2001</text>
<text transform="translate(282.2 3753.2) rotate(-90)" text-anchor="end" font-size="26.5" textLength="64.2" lengthAdjust="spacingAndGlyphs" class="lab">2002</text>
<text transform="translate(330.3 3753.2) rotate(-90)" text-anchor="end" font-size="26.5" textLength="66.7" lengthAdjust="spacingAndGlyphs" class="lab">2003</text>
<text transform="translate(378.4 3753.2) rotate(-90)" text-anchor="end" font-size="26.5" textLength="66.7" lengthAdjust="spacingAndGlyphs" class="lab">2004</text>
<text transform="translate(426.5 3753.2) rotate(-90)" text-anchor="end" font-size="26.5" textLength="66.7" lengthAdjust="spacingAndGlyphs" class="lab">2005</text>
<text transform="translate(474.6 3753.2) rotate(-90)" text-anchor="end" font-size="26.5" textLength="66.7" lengthAdjust="spacingAndGlyphs" class="lab">2006</text>
<text transform="translate(522.7 3753.2) rotate(-90)" text-anchor="end" font-size="26.5" textLength="66.7" lengthAdjust="spacingAndGlyphs" class="lab">2007</text>
<text transform="translate(570.8 3753.2) rotate(-90)" text-anchor="end" font-size="26.5" textLength="66.7" lengthAdjust="spacingAndGlyphs" class="lab">2008</text>
<text transform="translate(618.8 3753.2) rotate(-90)" text-anchor="end" font-size="26.5" textLength="66.7" lengthAdjust="spacingAndGlyphs" class="lab">2009</text>
<text transform="translate(666.9 3753.2) rotate(-90)" text-anchor="end" font-size="26.5" textLength="58.2" lengthAdjust="spacingAndGlyphs" class="lab">2010</text>
<text transform="translate(715 3753.2) rotate(-90)" text-anchor="end" font-size="26.5" textLength="49.7" lengthAdjust="spacingAndGlyphs" class="lab">2011</text>
<text transform="translate(763.1 3753.2) rotate(-90)" text-anchor="end" font-size="26.5" textLength="55.7" lengthAdjust="spacingAndGlyphs" class="lab">2012</text>
<text transform="translate(811.2 3753.2) rotate(-90)" text-anchor="end" font-size="26.5" textLength="58.2" lengthAdjust="spacingAndGlyphs" class="lab">2013</text>
<text transform="translate(859.3 3753.2) rotate(-90)" text-anchor="end" font-size="26.5" textLength="58.2" lengthAdjust="spacingAndGlyphs" class="lab">2014</text>
<text transform="translate(907.4 3753.2) rotate(-90)" text-anchor="end" font-size="26.5" textLength="58.2" lengthAdjust="spacingAndGlyphs" class="lab">2015</text>
<text transform="translate(955.5 3753.2) rotate(-90)" text-anchor="end" font-size="26.5" textLength="58.2" lengthAdjust="spacingAndGlyphs" class="lab">2016</text>
<text transform="translate(1003.6 3753.2) rotate(-90)" text-anchor="end" font-size="26.5" textLength="58.2" lengthAdjust="spacingAndGlyphs" class="lab">2017</text>
<polyline points="174,3499.1 222.1,3455.5 270.2,3502.2 318.3,3513.1 366.4,3469.5 414.5,3478.9 462.6,3475.7 510.7,3472.6 558.8,3472.6 606.8,3457.1 654.9,3472.6 703,3506.8 751.1,3511.5 799.2,3522.4 847.3,3539.5 895.4,3539.5 943.5,3542.6 991.6,3537.9" fill="none" stroke="#1F4E7E" stroke-width="4.6" stroke-linejoin="round" stroke-linecap="round"/>
<polyline points="174,3539.5 222.1,3525.5 270.2,3519.3 318.3,3536.4 366.4,3505.3 414.5,3497.5 462.6,3474.2 510.7,3472.6 558.8,3478.9 606.8,3464.9 654.9,3520.8 703,3525.5 751.1,3520.8 799.2,3520.8 847.3,3527 895.4,3528.6 943.5,3536.4 991.6,3528.6" fill="none" stroke="#7A1A1A" stroke-width="4.6" stroke-linejoin="round" stroke-linecap="round"/>
<polyline points="174,3492.8 222.1,3435.3 270.2,3474.2 318.3,3385.6 366.4,3298.5 414.5,3385.6 462.6,3418.2 510.7,3371.6 558.8,3458.6 606.8,3435.3 654.9,3506.8 703,3482 751.1,3528.6 799.2,3570.6 847.3,3551.9 895.4,3547.3 943.5,3541 991.6,3530.2" fill="none" stroke="#668A2E" stroke-width="4.6" stroke-linejoin="round" stroke-linecap="round"/>
<polyline points="174,3499.1 222.1,3480.4 270.2,3471.1 318.3,3514.6 366.4,3525.5 414.5,3497.5 462.6,3471.1 510.7,3463.3 558.8,3472.6 606.8,3447.8 654.9,3489.7 703,3516.2 751.1,3525.5 799.2,3506.8 847.3,3499.1 895.4,3503.7 943.5,3505.3 991.6,3491.3" fill="none" stroke="#40235E" stroke-width="4.6" stroke-linejoin="round" stroke-linecap="round"/>
<polyline points="174,3500.6 222.1,3522.4 270.2,3511.5 318.3,3474.2 366.4,3511.5 414.5,3458.6 462.6,3469.5 510.7,3489.7 558.8,3536.4 606.8,3545.7 654.9,3567.5 703,3502.2 751.1,3506.8 799.2,3509.9 847.3,3519.3 895.4,3497.5 943.5,3483.5 991.6,3460.2" fill="none" stroke="#1E6F80" stroke-width="4.6" stroke-linejoin="round" stroke-linecap="round"/>
<polyline points="174,3489.7 222.1,3452.4 270.2,3435.3 318.3,3505.3 366.4,3499.1 414.5,3458.6 462.6,3440 510.7,3488.2 558.8,3469.5 606.8,3384 654.9,3478.9 703,3457.1 751.1,3469.5 799.2,3499.1 847.3,3480.4 895.4,3488.2 943.5,3489.7 991.6,3480.4" fill="none" stroke="#A85E18" stroke-width="4.6" stroke-linejoin="round" stroke-linecap="round"/>
<polyline points="174,3547.3 222.1,3525.5 270.2,3513.1 318.3,3509.9 366.4,3492.8 414.5,3466.4 462.6,3472.6 510.7,3469.5 558.8,3497.5 606.8,3468 654.9,3496 703,3547.3 751.1,3517.7 799.2,3531.7 847.3,3541 895.4,3537.9 943.5,3544.1 991.6,3536.4" fill="none" stroke="#2F6BA6" stroke-width="4.6" stroke-linejoin="round" stroke-linecap="round"/>
<polyline points="174,3457.1 222.1,3449.3 270.2,3477.3 318.3,3548.8 366.4,3494.4 414.5,3452.4 462.6,3488.2 510.7,3457.1 558.8,3499.1 606.8,3472.6 654.9,3528.6 703,3527 751.1,3542.6 799.2,3548.8 847.3,3570.6 895.4,3559.7 943.5,3553.5 991.6,3534.8" fill="none" stroke="#A52A2A" stroke-width="4.6" stroke-linejoin="round" stroke-linecap="round"/>
<polyline points="174,3537.9 222.1,3541 270.2,3520.8 318.3,3528.6 366.4,3497.5 414.5,3472.6 462.6,3480.4 510.7,3433.8 558.8,3455.5 606.8,3438.4 654.9,3509.9 703,3506.8 751.1,3516.2 799.2,3508.4 847.3,3519.3 895.4,3527 943.5,3517.7 991.6,3500.6" fill="none" stroke="#86AE48" stroke-width="4.6" stroke-linejoin="round" stroke-linecap="round"/>
<polyline points="174,3562.8 222.1,3551.9 270.2,3547.3 318.3,3556.6 366.4,3544.1 414.5,3522.4 462.6,3496 510.7,3489.7 558.8,3488.2 606.8,3485.1 654.9,3551.9 703,3559.7 751.1,3537.9 799.2,3537.9 847.3,3555 895.4,3555 943.5,3556.6 991.6,3550.4" fill="none" stroke="#62468E" stroke-width="4.6" stroke-linejoin="round" stroke-linecap="round"/>
<polyline points="174,3523.9 222.1,3528.6 270.2,3520.8 318.3,3569 366.4,3528.6 414.5,3522.4 462.6,3541 510.7,3528.6 558.8,3488.2 606.8,3469.5 654.9,3505.3 703,3486.6 751.1,3489.7 799.2,3506.8 847.3,3531.7 895.4,3541 943.5,3528.6 991.6,3506.8" fill="none" stroke="#2E96B8" stroke-width="4.6" stroke-linejoin="round" stroke-linecap="round"/>
<polyline points="174,3542.6 222.1,3485.1 270.2,3506.8 318.3,3469.5 366.4,3444.6 414.5,3407.3 462.6,3394.9 510.7,3371.6 558.8,3415.1 606.8,3416.7 654.9,3494.4 703,3464.9 751.1,3483.5 799.2,3455.5 847.3,3472.6 895.4,3435.3 943.5,3438.4 991.6,3443.1" fill="none" stroke="#EA8338" stroke-width="4.6" stroke-linejoin="round" stroke-linecap="round"/>
<polyline points="174,3523.9 222.1,3461.7 270.2,3497.5 318.3,3508.4 366.4,3506.8 414.5,3491.3 462.6,3447.8 510.7,3444.6 558.8,3430.7 606.8,3429.1 654.9,3387.1 703,3447.8 751.1,3455.5 799.2,3452.4 847.3,3477.3 895.4,3491.3 943.5,3492.8 991.6,3488.2" fill="none" stroke="#93A6CC" stroke-width="4.6" stroke-linejoin="round" stroke-linecap="round"/>
<text x="76" y="120.2" font-size="45" font-weight="bold" fill="#0a0a0a" stroke="#0a0a0a" stroke-width="0.6" textLength="186" lengthAdjust="spacingAndGlyphs">Sector A:</text>
<text x="274" y="119.5" font-size="35" font-weight="bold" fill="#0a0a0a" stroke="#0a0a0a" stroke-width="0.6" textLength="661" lengthAdjust="spacingAndGlyphs">AGRICULTURE, FORESTRY AND FISHERY</text>
<text x="1082.4" y="57" font-size="45" font-weight="bold" fill="#0a0a0a" stroke="#0a0a0a" stroke-width="0.6" textLength="183.6" lengthAdjust="spacingAndGlyphs">Sector B:</text>
<text x="1087" y="104" font-size="36" font-weight="bold" fill="#0a0a0a" stroke="#0a0a0a" stroke-width="0.6" textLength="984.3" lengthAdjust="spacingAndGlyphs">MINING, INDUSTRIAL, ENERGY, AND RECYCLING ACTIVITIES</text>
<text x="224" y="891.5" font-size="45" font-weight="bold" fill="#0a0a0a" stroke="#0a0a0a" stroke-width="0.6" textLength="180" lengthAdjust="spacingAndGlyphs">Sector C:</text>
<text x="438.1" y="891.5" font-size="34" font-weight="bold" fill="#0a0a0a" stroke="#0a0a0a" stroke-width="0.6" textLength="268.3" lengthAdjust="spacingAndGlyphs">CONSTRUCTION</text>
<text x="1095.4" y="819.6" font-size="45" font-weight="bold" fill="#0a0a0a" stroke="#0a0a0a" stroke-width="0.6" textLength="187.6" lengthAdjust="spacingAndGlyphs">Sector D:</text>
<text x="1098.4" y="863.7" font-size="35" font-weight="bold" fill="#0a0a0a" stroke="#0a0a0a" stroke-width="0.6" textLength="998" lengthAdjust="spacingAndGlyphs">WHOLESALE AND RETAIL TRADE - REPAIR OF VEHICLES AND</text>
<text x="1469.6" y="911.5" font-size="35" font-weight="bold" fill="#0a0a0a" stroke="#0a0a0a" stroke-width="0.6" textLength="254.9" lengthAdjust="spacingAndGlyphs">MOTORCYCLES</text>
<text x="43.4" y="1646" font-size="45" font-weight="bold" fill="#0a0a0a" stroke="#0a0a0a" stroke-width="0.6" textLength="180.2" lengthAdjust="spacingAndGlyphs">Sector E:</text>
<text x="252" y="1645.2" font-size="35" font-weight="bold" fill="#0a0a0a" stroke="#0a0a0a" stroke-width="0.6" textLength="637.4" lengthAdjust="spacingAndGlyphs">FINANCIAL AND INSURANCE SERVICES</text>
<text x="1210.5" y="1653.7" font-size="45" font-weight="bold" fill="#0a0a0a" stroke="#0a0a0a" stroke-width="0.6" textLength="179.1" lengthAdjust="spacingAndGlyphs">Sector F:</text>
<text x="1410.8" y="1653.5" font-size="35" font-weight="bold" fill="#0a0a0a" stroke="#0a0a0a" stroke-width="0.6" textLength="643.4" lengthAdjust="spacingAndGlyphs">INFORMATION AND COMMUNICATION</text>
<text x="41.9" y="2352.4" font-size="45" font-weight="bold" fill="#0a0a0a" stroke="#0a0a0a" stroke-width="0.6" textLength="187.3" lengthAdjust="spacingAndGlyphs">Sector H:</text>
<text x="35.9" y="2402.5" font-size="35" font-weight="bold" fill="#0a0a0a" stroke="#0a0a0a" stroke-width="0.6" textLength="938.3" lengthAdjust="spacingAndGlyphs">PROFESSIONAL, SCIENTIFIC, AND TECHNICAL ACTIVITIES</text>
<text x="1089.1" y="2370.5" font-size="35" font-weight="bold" fill="#0a0a0a" stroke="#0a0a0a" stroke-width="0.6" textLength="984.5" lengthAdjust="spacingAndGlyphs">PUBLIC ADMINISTRATION &amp; DEFENCE, SOCIAL INSURANCE,</text>
<text x="1250.1" y="2417.8" font-size="35" font-weight="bold" fill="#0a0a0a" stroke="#0a0a0a" stroke-width="0.6" textLength="662.2" lengthAdjust="spacingAndGlyphs">EDUCATION, HEALTH AND SOCIAL CARE</text>
<text x="61.3" y="3163.5" font-size="45" font-weight="bold" fill="#0a0a0a" stroke="#0a0a0a" stroke-width="0.6" textLength="173.2" lengthAdjust="spacingAndGlyphs">Sector J:</text>
<text x="260.2" y="3162" font-size="35" font-weight="bold" fill="#0a0a0a" stroke="#0a0a0a" stroke-width="0.6" textLength="605.5" lengthAdjust="spacingAndGlyphs">ARTS, LEISURE, &amp; OTHER ACTIVITIES</text>
<text x="1895" y="2550.1" font-size="45" font-weight="bold" fill="#0a0a0a" stroke="#fbfbfb" stroke-width="9" stroke-linejoin="round" paint-order="stroke" textLength="169.7" lengthAdjust="spacingAndGlyphs">Sector I:</text>
<line x1="1086.1" y1="3132.3" x2="1166.6" y2="3132.3" stroke="#1F4E7E" stroke-width="7" stroke-linecap="round"/>
<text x="1174.4" y="3142.8" font-size="31" class="lab" textLength="384.3" lengthAdjust="spacingAndGlyphs">1. East Macedonia &amp; Thrace</text>
<line x1="1086.1" y1="3208.6" x2="1166.6" y2="3208.6" stroke="#7A1A1A" stroke-width="7" stroke-linecap="round"/>
<text x="1174.4" y="3219.1" font-size="31" class="lab" textLength="294.6" lengthAdjust="spacingAndGlyphs">2. Central Macedonia</text>
<line x1="1086.1" y1="3285.5" x2="1166.6" y2="3285.5" stroke="#1E6F80" stroke-width="7" stroke-linecap="round"/>
<text x="1174.4" y="3296" font-size="31" class="lab" textLength="117.6" lengthAdjust="spacingAndGlyphs">5. Epirus</text>
<line x1="1086.1" y1="3360.2" x2="1165.6" y2="3360.2" stroke="#A85E18" stroke-width="7" stroke-linecap="round"/>
<text x="1175.6" y="3370.7" font-size="31" class="lab" textLength="224.9" lengthAdjust="spacingAndGlyphs">6. Ionian Islands</text>
<line x1="1096.3" y1="3420.7" x2="1175.5" y2="3420.7" stroke="#86AE48" stroke-width="7" stroke-linecap="round"/>
<text x="1186.2" y="3431.2" font-size="31" class="lab" textLength="230.8" lengthAdjust="spacingAndGlyphs">9. Peloponnesus</text>
<line x1="1096.3" y1="3495.5" x2="1175.5" y2="3495.5" stroke="#62468E" stroke-width="7" stroke-linecap="round"/>
<text x="1186.2" y="3506" font-size="31" class="lab" textLength="126.3" lengthAdjust="spacingAndGlyphs">10. Attica</text>
<line x1="1604.7" y1="3136.5" x2="1685" y2="3136.5" stroke="#668A2E" stroke-width="7" stroke-linecap="round"/>
<text x="1693.9" y="3147" font-size="31" class="lab" textLength="265.6" lengthAdjust="spacingAndGlyphs">3. West Macedonia</text>
<line x1="1604.7" y1="3211.3" x2="1685" y2="3211.3" stroke="#40235E" stroke-width="7" stroke-linecap="round"/>
<text x="1693.9" y="3221.8" font-size="31" class="lab" textLength="153.6" lengthAdjust="spacingAndGlyphs">4. Thessaly</text>
<line x1="1604.7" y1="3292.7" x2="1685" y2="3292.7" stroke="#2F6BA6" stroke-width="7" stroke-linecap="round"/>
<text x="1693.9" y="3303.2" font-size="31" class="lab" textLength="208.1" lengthAdjust="spacingAndGlyphs">7. West Greece</text>
<line x1="1604.7" y1="3353.5" x2="1684.5" y2="3353.5" stroke="#A52A2A" stroke-width="7" stroke-linecap="round"/>
<text x="1694.3" y="3364" font-size="31" class="lab" textLength="215.2" lengthAdjust="spacingAndGlyphs">8. Sterea Hellas</text>
<line x1="1608.9" y1="3432.4" x2="1687.7" y2="3432.4" stroke="#2E96B8" stroke-width="7" stroke-linecap="round"/>
<text x="1698.5" y="3442.9" font-size="31" class="lab" textLength="233.4" lengthAdjust="spacingAndGlyphs">11. North Aegean</text>
<line x1="1608.9" y1="3506.6" x2="1687.7" y2="3506.6" stroke="#EA8338" stroke-width="7" stroke-linecap="round"/>
<text x="1698.5" y="3517.1" font-size="31" class="lab" textLength="238.5" lengthAdjust="spacingAndGlyphs">12. South Aegean</text>
<line x1="1608.9" y1="3581.2" x2="1687.7" y2="3581.2" stroke="#93A6CC" stroke-width="7" stroke-linecap="round"/>
<text x="1698.5" y="3591.7" font-size="31" class="lab" textLength="117.5" lengthAdjust="spacingAndGlyphs">13. Crete</text>
</g>
</svg>
</body></html>
